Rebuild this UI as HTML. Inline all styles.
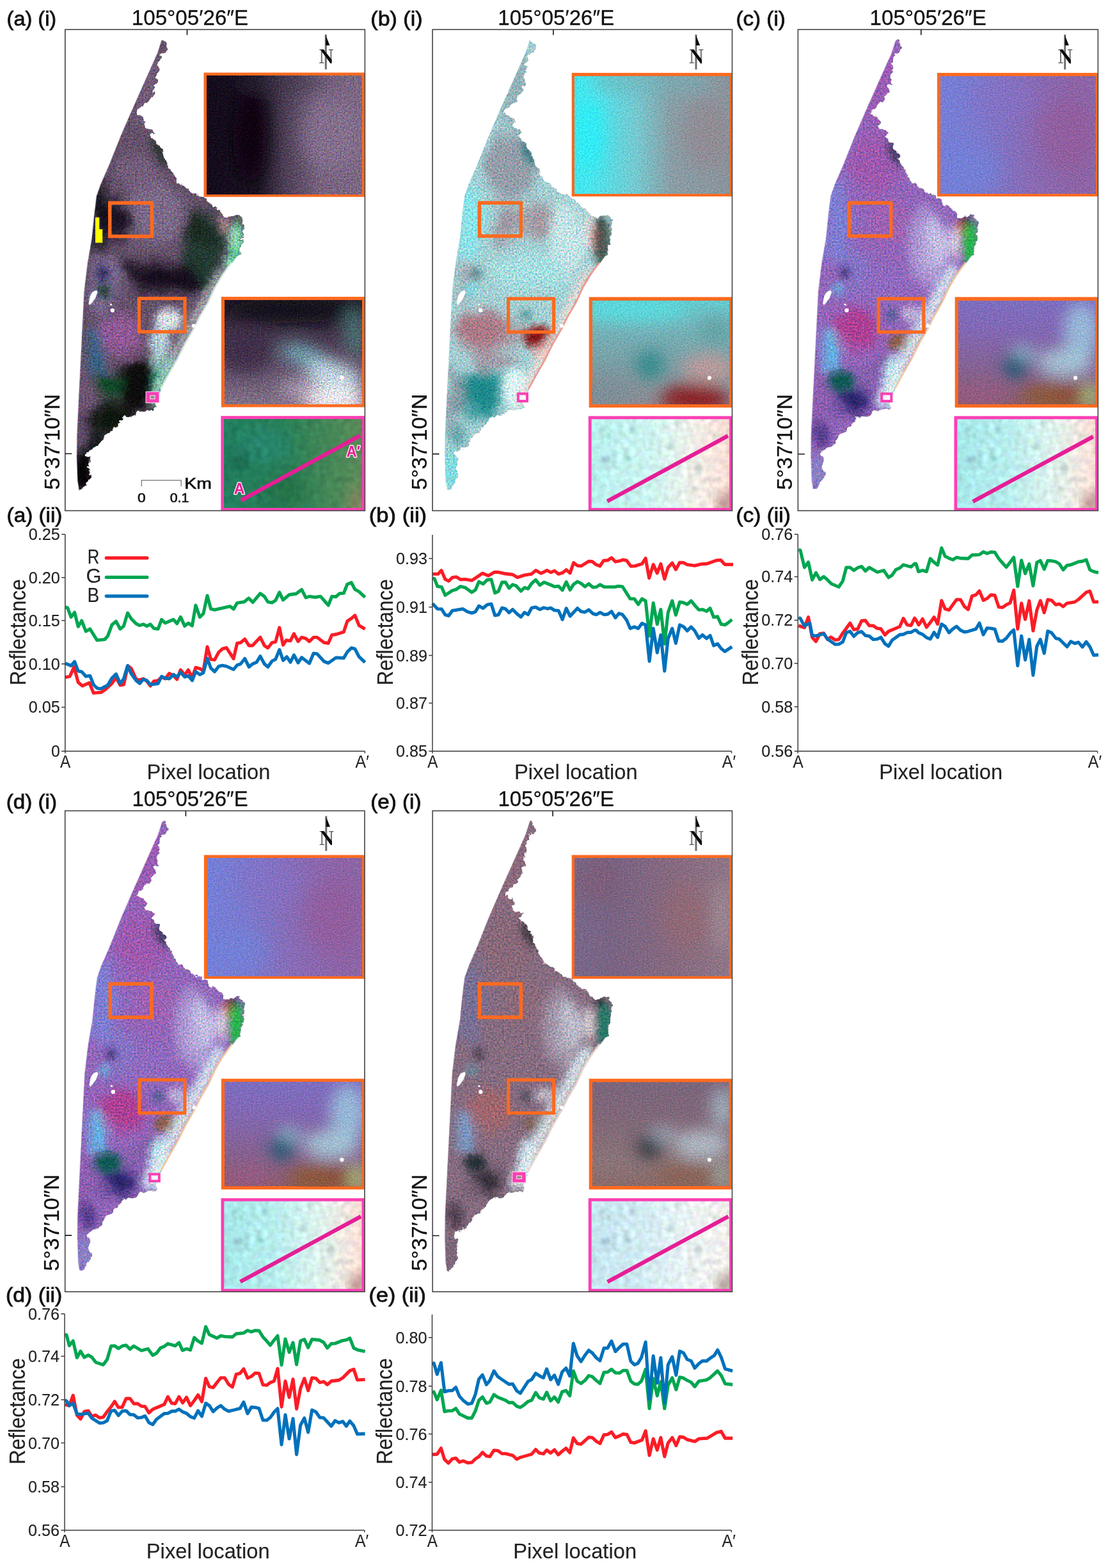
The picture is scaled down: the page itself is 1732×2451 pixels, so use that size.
<!DOCTYPE html>
<html lang="en"><head><meta charset="utf-8"><title>Figure</title>
<style>
html,body{margin:0;padding:0;background:#fff}
body{width:1732px;height:2451px}
svg{display:block}
text{font-family:"Liberation Sans", sans-serif;}
text.nser{font-family:"Liberation Serif",serif;font-weight:bold}
</style></head><body>
<svg width="1732" height="2451" viewBox="0 0 1732 2451">
<rect width="1732" height="2451" fill="#fff"/>
<defs><filter id="gr1" x="0" y="0" width="100%" height="100%" color-interpolation-filters="sRGB"><feTurbulence type="fractalNoise" baseFrequency="0.45" numOctaves="1" seed="3"/><feColorMatrix type="matrix" values="1.840 0.230 0.230 0 -0.650 0.230 1.840 0.230 0 -0.650 0.230 0.230 1.840 0 -0.650 0 0 0 0 1" result="n"/><feComposite in="SourceGraphic" in2="n" operator="arithmetic" k1="0.5" k2="0.750" k3="0.09" k4="-0.045"/><feComposite in2="SourceGraphic" operator="in"/></filter><filter id="gr2" x="0" y="0" width="100%" height="100%" color-interpolation-filters="sRGB"><feTurbulence type="fractalNoise" baseFrequency="0.45" numOctaves="1" seed="7"/><feColorMatrix type="matrix" values="2.200 0.400 0.400 0 -1.000 0.173 0.953 0.173 0 -0.150 0.173 0.173 0.953 0 -0.150 0 0 0 0 1" result="n"/><feComposite in="SourceGraphic" in2="n" operator="arithmetic" k1="0.3" k2="0.850" k3="0.08" k4="-0.040"/><feComposite in2="SourceGraphic" operator="in"/></filter><filter id="gr3" x="0" y="0" width="100%" height="100%" color-interpolation-filters="sRGB"><feTurbulence type="fractalNoise" baseFrequency="0.1" numOctaves="2" seed="5"/><feColorMatrix type="matrix" values="1.100 0.550 0.550 0 -0.600 0.550 1.100 0.550 0 -0.600 0.550 0.550 1.100 0 -0.600 0 0 0 0 1" result="n"/><feComposite in="SourceGraphic" in2="n" operator="arithmetic" k1="0.16" k2="0.920" k3="0.03" k4="-0.015"/><feComposite in2="SourceGraphic" operator="in"/></filter><filter id="gr4" x="0" y="0" width="100%" height="100%" color-interpolation-filters="sRGB"><feTurbulence type="fractalNoise" baseFrequency="0.45" numOctaves="1" seed="11"/><feColorMatrix type="matrix" values="2.147 0.327 0.327 0 -0.900 0.175 1.150 0.175 0 -0.250 0.222 0.222 1.457 0 -0.450 0 0 0 0 1" result="n"/><feComposite in="SourceGraphic" in2="n" operator="arithmetic" k1="0.28" k2="0.860" k3="0.07" k4="-0.035"/><feComposite in2="SourceGraphic" operator="in"/></filter><filter id="lf1" x="-5%" y="-3%" width="110%" height="106%" color-interpolation-filters="sRGB"><feTurbulence type="fractalNoise" baseFrequency="0.13" numOctaves="2" seed="23" result="t1"/><feDisplacementMap in="SourceGraphic" in2="t1" scale="9" xChannelSelector="R" yChannelSelector="G" result="d"/><feTurbulence type="fractalNoise" baseFrequency="0.38" numOctaves="2" seed="3"/><feColorMatrix type="matrix" values="1.840 0.230 0.230 0 -0.650 0.190 1.520 0.190 0 -0.450 0.230 0.230 1.840 0 -0.650 0 0 0 0 1" result="n"/><feComposite in="d" in2="n" operator="arithmetic" k1="0.6" k2="0.700" k3="0.09" k4="-0.045"/><feComposite in2="d" operator="in"/></filter><filter id="lf2" x="-5%" y="-3%" width="110%" height="106%" color-interpolation-filters="sRGB"><feTurbulence type="fractalNoise" baseFrequency="0.13" numOctaves="2" seed="27" result="t1"/><feDisplacementMap in="SourceGraphic" in2="t1" scale="9" xChannelSelector="R" yChannelSelector="G" result="d"/><feTurbulence type="fractalNoise" baseFrequency="0.38" numOctaves="2" seed="7"/><feColorMatrix type="matrix" values="2.720 0.340 0.340 0 -1.200 0.150 1.200 0.150 0 -0.250 0.140 0.140 1.120 0 -0.200 0 0 0 0 1" result="n"/><feComposite in="d" in2="n" operator="arithmetic" k1="0.42" k2="0.790" k3="0.13" k4="-0.065"/><feComposite in2="d" operator="in"/></filter><filter id="lf4" x="-5%" y="-3%" width="110%" height="106%" color-interpolation-filters="sRGB"><feTurbulence type="fractalNoise" baseFrequency="0.13" numOctaves="2" seed="31" result="t1"/><feDisplacementMap in="SourceGraphic" in2="t1" scale="9" xChannelSelector="R" yChannelSelector="G" result="d"/><feTurbulence type="fractalNoise" baseFrequency="0.38" numOctaves="2" seed="11"/><feColorMatrix type="matrix" values="2.400 0.300 0.300 0 -1.000 0.160 1.280 0.160 0 -0.300 0.200 0.200 1.600 0 -0.500 0 0 0 0 1" result="n"/><feComposite in="d" in2="n" operator="arithmetic" k1="0.42" k2="0.790" k3="0.11" k4="-0.055"/><feComposite in2="d" operator="in"/></filter><filter id="lf5" x="-5%" y="-3%" width="110%" height="106%" color-interpolation-filters="sRGB"><feTurbulence type="fractalNoise" baseFrequency="0.13" numOctaves="2" seed="35" result="t1"/><feDisplacementMap in="SourceGraphic" in2="t1" scale="9" xChannelSelector="R" yChannelSelector="G" result="d"/><feTurbulence type="fractalNoise" baseFrequency="0.36" numOctaves="2" seed="15"/><feColorMatrix type="matrix" values="2.053 0.373 0.373 0 -0.900 0.213 1.173 0.213 0 -0.300 0.227 0.227 1.247 0 -0.350 0 0 0 0 1" result="n"/><feComposite in="d" in2="n" operator="arithmetic" k1="0.4" k2="0.800" k3="0.1" k4="-0.050"/><feComposite in2="d" operator="in"/></filter><filter id="warp" x="-10%" y="-10%" width="120%" height="120%"><feTurbulence type="fractalNoise" baseFrequency="0.022" numOctaves="2" seed="4" result="w"/><feDisplacementMap in="SourceGraphic" in2="w" scale="30" xChannelSelector="R" yChannelSelector="G"/></filter><filter id="b1" x="-20%" y="-20%" width="140%" height="140%"><feGaussianBlur stdDeviation="0.6"/></filter><clipPath id="land"><path d="M145.8 13.2 L138.4 36.4 L121.8 73.4 L99.5 123.4 L81.0 165.9 L62.5 212.2 L49.6 241.8 L43.1 260.3 L39.4 289.9 L35.7 326.9 L29.2 364.0 L23.7 409.3 L20.9 464.8 L18.1 520.4 L15.3 575.9 L12.6 631.4 L12.2 668.4 L13.5 705.5 L15.3 716.6 L20.0 719.3 L26.0 719.3 L29.2 714.8 L33.4 709.2 L35.2 703.8 L38.9 699.9 L39.2 693.8 L36.1 687.0 L36.2 679.8 L38.9 672.1 L37.2 667.8 L31.5 664.7 L34.2 659.8 L40.8 657.3 L45.2 652.8 L51.9 651.8 L56.2 644.8 L61.1 637.0 L65.2 631.8 L72.2 629.6 L74.2 622.8 L79.6 620.3 L84.2 614.8 L88.9 607.4 L96.2 603.8 L103.7 605.5 L108.2 603.8 L113.0 598.1 L126.2 594.8 L135.2 596.3 L145.5 587.9 L154.8 565.6 L165.9 545.3 L180.7 519.4 L193.6 493.5 L206.6 471.3 L215.8 452.7 L228.8 430.5 L239.9 406.5 L251.0 388.0 L259.0 376.5 L265.8 367.6 L274.1 356.5 L272.1 345.5 L275.2 336.8 L277.7 326.9 L278.7 318.8 L279.5 308.4 L278.2 299.8 L275.8 292.7 L268.4 289.6 L262.2 290.8 L257.3 294.6 L249.9 293.6 L242.5 284.4 L238.2 280.8 L231.4 277.0 L226.2 271.8 L220.3 264.9 L210.2 259.8 L201.8 256.6 L195.2 252.8 L188.8 246.4 L182.2 241.8 L175.9 240.0 L168.5 227.0 L164.2 218.8 L159.2 209.8 L155.2 202.8 L155.5 195.5 L148.2 185.8 L144.4 177.0 L138.2 171.8 L132.5 165.8 L140.7 161.3 L134.2 156.8 L126.2 154.8 L123.2 148.8 L127.8 143.7 L122.2 137.8 L116.7 132.6 L110.2 131.8 L112.2 125.8 L120.2 121.5 L124.2 114.8 L131.2 112.2 L132.2 105.8 L137.0 103.0 L139.2 94.8 L138.2 87.8 L143.5 84.5 L144.2 79.8 L140.7 75.2 L144.4 67.8 L146.2 59.8 L143.2 53.0 L149.2 45.8 L148.7 38.8 L155.5 35.4 L161.1 29.0 L155.5 17.9Z"/></clipPath><clipPath id="landL"><path d="M150.8 5.2 L151.8 13.2 L144.4 36.4 L127.8 73.4 L105.5 123.4 L87.0 165.9 L68.5 212.2 L55.6 241.8 L49.1 260.3 L45.4 289.9 L41.7 326.9 L35.2 364.0 L29.7 409.3 L26.9 464.8 L24.1 520.4 L21.3 575.9 L18.6 631.4 L18.2 668.4 L19.5 705.5 L21.3 716.6 L21.3 725.8 L33.0 728.8 L33.0 726.3 L36.2 721.8 L40.4 716.2 L42.2 710.8 L45.9 706.9 L46.2 700.8 L43.1 694.0 L43.2 686.8 L45.9 679.1 L44.2 674.8 L38.5 671.7 L41.2 666.8 L47.8 664.3 L52.2 659.8 L58.9 658.8 L63.2 651.8 L68.1 644.0 L72.2 638.8 L79.2 636.6 L81.2 629.8 L86.6 627.3 L91.2 621.8 L95.9 614.4 L103.2 610.8 L110.7 612.5 L115.2 610.8 L120.0 605.1 L133.2 601.8 L142.2 603.3 L143.7 591.2 L140.7 585.2 L150.0 562.9 L161.1 542.6 L175.9 516.7 L188.8 490.8 L201.8 468.6 L211.0 450.0 L224.0 427.8 L235.1 403.8 L246.2 385.3 L254.2 373.8 L261.0 364.9 L269.3 353.8 L283.1 348.5 L281.1 340.5 L284.2 331.8 L286.7 321.9 L287.7 313.8 L288.5 303.4 L287.2 294.8 L284.8 287.7 L277.4 284.6 L271.2 285.8 L266.3 289.6 L258.9 288.6 L251.5 279.4 L247.2 275.8 L240.4 272.0 L235.2 266.8 L229.3 259.9 L219.2 254.8 L210.8 251.6 L204.2 247.8 L197.8 241.4 L191.2 236.8 L184.9 235.0 L177.5 222.0 L173.2 213.8 L168.2 204.8 L164.2 197.8 L164.5 190.5 L157.2 180.8 L153.4 172.0 L147.2 166.8 L141.5 160.8 L149.7 156.3 L143.2 151.8 L135.2 149.8 L132.2 143.8 L136.8 138.7 L131.2 132.8 L125.7 127.6 L119.2 126.8 L121.2 120.8 L129.2 116.5 L133.2 109.8 L140.2 107.2 L141.2 100.8 L146.0 98.0 L148.2 89.8 L147.2 82.8 L152.5 79.5 L153.2 74.8 L149.7 70.2 L153.4 62.8 L155.2 54.8 L152.2 48.0 L158.2 40.8 L157.7 33.8 L164.5 30.4 L170.1 24.0 L164.5 12.9 L163.8 5.2Z"/></clipPath><filter id="b9" x="-50%" y="-50%" width="200%" height="200%"><feGaussianBlur stdDeviation="9"/></filter><filter id="b6" x="-50%" y="-50%" width="200%" height="200%"><feGaussianBlur stdDeviation="6"/></filter><linearGradient id="ga0" x1="0" y1="0" x2="1" y2="0"><stop offset="0" stop-color="#1b1430"/><stop offset="0.12" stop-color="#140c1c"/><stop offset="0.36" stop-color="#1c1323"/><stop offset="0.5" stop-color="#4c3e55"/><stop offset="0.68" stop-color="#77637f"/><stop offset="1" stop-color="#806b88"/></linearGradient><filter id="b12" x="-50%" y="-50%" width="200%" height="200%"><feGaussianBlur stdDeviation="12"/></filter><linearGradient id="ga1" x1="0" y1="0" x2="0" y2="1"><stop offset="0" stop-color="#15101a"/><stop offset="0.22" stop-color="#2e2233"/><stop offset="0.5" stop-color="#54435c"/><stop offset="1" stop-color="#938299"/></linearGradient><linearGradient id="ga2" x1="0" y1="0" x2="1" y2="0"><stop offset="0" stop-color="#1f7f63"/><stop offset="0.45" stop-color="#2a7f56"/><stop offset="0.8" stop-color="#4f8a58"/><stop offset="1" stop-color="#6f8a5c"/></linearGradient><linearGradient id="gb0" x1="0" y1="0" x2="1" y2="0"><stop offset="0" stop-color="#35eaf2"/><stop offset="0.18" stop-color="#4ae6ee"/><stop offset="0.42" stop-color="#76c9d0"/><stop offset="0.6" stop-color="#8a9ea6"/><stop offset="1" stop-color="#8c9199"/></linearGradient><linearGradient id="gb1" x1="0" y1="0" x2="0" y2="1"><stop offset="0" stop-color="#58e0e2"/><stop offset="0.3" stop-color="#74b6bc"/><stop offset="0.6" stop-color="#7a9da4"/><stop offset="1" stop-color="#9a8088"/></linearGradient><linearGradient id="gb2" x1="0" y1="0" x2="1" y2="0"><stop offset="0" stop-color="#b2efee"/><stop offset="0.45" stop-color="#cdf4f0"/><stop offset="0.7" stop-color="#f2efe8"/><stop offset="0.86" stop-color="#f8e0d8"/><stop offset="1" stop-color="#f6c6be"/></linearGradient><filter id="b3" x="-50%" y="-50%" width="200%" height="200%"><feGaussianBlur stdDeviation="3"/></filter><linearGradient id="gc0" x1="0" y1="0" x2="1" y2="0"><stop offset="0" stop-color="#7282de"/><stop offset="0.3" stop-color="#7c7ace"/><stop offset="0.55" stop-color="#896cb6"/><stop offset="0.8" stop-color="#8e64a6"/><stop offset="1" stop-color="#8c68a8"/></linearGradient><linearGradient id="gc1" x1="0" y1="0" x2="0" y2="1"><stop offset="0" stop-color="#7a72c8"/><stop offset="0.35" stop-color="#8268b4"/><stop offset="0.65" stop-color="#86628f"/><stop offset="1" stop-color="#8f5a58"/></linearGradient><linearGradient id="gc2" x1="0" y1="0" x2="1" y2="0"><stop offset="0" stop-color="#9fe6e8"/><stop offset="0.4" stop-color="#b8eeee"/><stop offset="0.68" stop-color="#e2f2ec"/><stop offset="0.86" stop-color="#f8e2da"/><stop offset="1" stop-color="#f6cac2"/></linearGradient><linearGradient id="gd0" x1="0" y1="0" x2="1" y2="0"><stop offset="0" stop-color="#7282de"/><stop offset="0.3" stop-color="#7c7ace"/><stop offset="0.55" stop-color="#896cb6"/><stop offset="0.8" stop-color="#8e64a6"/><stop offset="1" stop-color="#8c68a8"/></linearGradient><linearGradient id="gd1" x1="0" y1="0" x2="0" y2="1"><stop offset="0" stop-color="#7a72c8"/><stop offset="0.35" stop-color="#8268b4"/><stop offset="0.65" stop-color="#86628f"/><stop offset="1" stop-color="#8f5a58"/></linearGradient><linearGradient id="gd2" x1="0" y1="0" x2="1" y2="0"><stop offset="0" stop-color="#9fe6e8"/><stop offset="0.4" stop-color="#b8eeee"/><stop offset="0.68" stop-color="#e2f2ec"/><stop offset="0.86" stop-color="#f8e2da"/><stop offset="1" stop-color="#f6cac2"/></linearGradient><linearGradient id="ge0" x1="0" y1="0" x2="1" y2="0"><stop offset="0" stop-color="#776a8c"/><stop offset="0.3" stop-color="#7a6484"/><stop offset="0.6" stop-color="#876a80"/><stop offset="1" stop-color="#927a88"/></linearGradient><linearGradient id="ge1" x1="0" y1="0" x2="0" y2="1"><stop offset="0" stop-color="#78647e"/><stop offset="0.4" stop-color="#806878"/><stop offset="0.7" stop-color="#8a7478"/><stop offset="1" stop-color="#8a6460"/></linearGradient><linearGradient id="ge2" x1="0" y1="0" x2="1" y2="0"><stop offset="0" stop-color="#c0e4f0"/><stop offset="0.4" stop-color="#d2ecf3"/><stop offset="0.7" stop-color="#eef3f3"/><stop offset="1" stop-color="#f4ebe6"/></linearGradient></defs>
<g id="map-a"><g transform="translate(101.8 46.2)"><g clip-path="url(#landL)"><g filter="url(#lf1)"><g clip-path="url(#land)"><rect x="-10" y="0" width="310" height="740" fill="#64516a"/><g filter="url(#warp)"><g filter="url(#b9)"><ellipse cx="133.2" cy="93.8" rx="30.0" ry="70.0" fill="#725a78" opacity="1"/><ellipse cx="143.2" cy="283.8" rx="42.0" ry="50.0" fill="#7c6988" opacity="1"/><ellipse cx="113.2" cy="223.8" rx="35.0" ry="30.0" fill="#745e7c" opacity="0.95"/><ellipse cx="54.2" cy="288.8" rx="13.0" ry="60.0" fill="#0b0818" opacity="1"/><ellipse cx="84.2" cy="298.8" rx="17.0" ry="30.0" fill="#130c1b" opacity="0.95"/><ellipse cx="58.2" cy="398.8" rx="24.0" ry="45.0" fill="#7d6c95" opacity="0.9"/><ellipse cx="216.2" cy="343.8" rx="32.0" ry="62.0" fill="#243a32" opacity="1"/><ellipse cx="210.2" cy="315.8" rx="22.0" ry="28.0" fill="#1a2824" opacity="0.95"/><ellipse cx="160.2" cy="389.8" rx="55.0" ry="22.0" fill="#17111a" opacity="1"/><ellipse cx="113.2" cy="371.8" rx="30.0" ry="16.0" fill="#241a28" opacity="0.9"/><ellipse cx="85.2" cy="475.8" rx="32.0" ry="32.0" fill="#96599a" opacity="0.9"/><ellipse cx="50.2" cy="501.8" rx="10.0" ry="38.0" fill="#1f6a90" opacity="0.95"/><ellipse cx="116.2" cy="555.8" rx="34.0" ry="44.0" fill="#0a0a0b" opacity="1"/><ellipse cx="66.2" cy="557.8" rx="24.0" ry="22.0" fill="#0e4a28" opacity="1"/><ellipse cx="73.2" cy="608.8" rx="36.0" ry="24.0" fill="#0c120e" opacity="1"/><ellipse cx="48.2" cy="653.8" rx="24.0" ry="18.0" fill="#101814" opacity="1"/><ellipse cx="50.2" cy="615.8" rx="16.0" ry="26.0" fill="#161c1a" opacity="0.95"/><ellipse cx="27.2" cy="578.8" rx="7.0" ry="60.0" fill="#75577c" opacity="0.95"/><ellipse cx="27.2" cy="695.8" rx="18.0" ry="34.0" fill="#060606" opacity="1"/></g></g><g filter="url(#b6)"><ellipse cx="148.2" cy="191.8" rx="8.0" ry="26.0" fill="#233229" opacity="0.9" transform="rotate(-25 148.2 191.8)"/><ellipse cx="59.2" cy="381.8" rx="8.0" ry="12.0" fill="#1a1a52" opacity="0.95"/><ellipse cx="60.2" cy="408.8" rx="9.0" ry="11.0" fill="#0c3a28" opacity="0.95"/><ellipse cx="162.2" cy="453.8" rx="22.0" ry="18.0" fill="#dfe9f0" opacity="0.95"/><ellipse cx="148.2" cy="488.8" rx="17.0" ry="25.0" fill="#bcd8e0" opacity="0.9"/><ellipse cx="144.2" cy="521.8" rx="12.0" ry="16.0" fill="#9fd6d0" opacity="0.8"/><ellipse cx="146.2" cy="559.8" rx="13.0" ry="32.0" fill="#1d9c7b" opacity="1"/><ellipse cx="164.2" cy="531.8" rx="9.0" ry="24.0" fill="#259a80" opacity="0.95"/><ellipse cx="267.2" cy="331.8" rx="11.0" ry="30.0" fill="#4ad894" opacity="1"/><ellipse cx="264.2" cy="325.8" rx="6.0" ry="18.0" fill="#b8f0d0" opacity="0.9"/><ellipse cx="258.2" cy="365.8" rx="9.0" ry="13.0" fill="#7fe0b0" opacity="1"/><ellipse cx="272.2" cy="297.8" rx="6.0" ry="6.0" fill="#5a7a4a" opacity="0.9"/><ellipse cx="247.2" cy="305.8" rx="5.0" ry="14.0" fill="#e8b0a8" opacity="0.9"/><polyline points="243.2,378.8 229.2,402.8 217.2,426.8 204.2,448.8 195.2,466.8 182.2,489.8 169.2,514.8 154.2,540.8 143.2,561.8 134.2,582.8" fill="none" stroke="#dcefe9" stroke-width="9" stroke-linecap="round" stroke-linejoin="round" opacity="0.8"/></g></g></g><polyline points="261.0,364.9 254.2,373.8 246.2,385.3 235.1,403.8 224.0,427.8 211.0,450.0 201.8,468.6 188.8,490.8 175.9,516.7 161.1,542.6 150.0,562.9" fill="none" stroke="#dff2ea" stroke-width="5" opacity="0.85" filter="url(#b1)"/></g><polygon points="36.7,427.8 39.2,415.8 43.2,409.8 49.2,407.3 50.7,410.8 47.2,419.8 42.2,426.8 38.2,430.8" fill="#fff"/><circle cx="74.1" cy="438.9" r="3.2" fill="#fff"/><circle cx="71.7" cy="429.8" r="1.6" fill="#fff"/><circle cx="200.9" cy="463.0" r="3.0" fill="#fff"/><circle cx="103.2" cy="106.8" r="2.0" fill="#fff"/><path d="M47.2 293.6 H53.5 V312.1 H58.4 V333.4 H47.2Z" fill="#ffff00"/></g><rect x="171.7" y="317.2" width="65.7" height="52.2" fill="none" stroke="#fb6a20" stroke-width="5.5"/><rect x="217.4" y="466.5" width="71.6" height="52.1" fill="none" stroke="#fb6a20" stroke-width="5.2"/><rect x="227.6" y="611.8" width="21.8" height="18.3" fill="#fbe3f2"/><rect x="228.6" y="612.8" width="19.8" height="16.3" fill="#fb3fb4"/><rect x="234.9" y="618.4" width="7.2" height="5.1" fill="#8b8f86" stroke="#f7d3e8" stroke-width="1.2"/><rect x="318.5" y="113.5" width="252.2" height="194.3" fill="#fb6a20"/><svg x="323.2" y="118.2" width="242.8" height="184.9" viewBox="0 0 242.8 184.9" overflow="hidden"><g filter="url(#gr1)"><rect x="-30" y="-30" width="302.8" height="244.9" fill="url(#ga0)"/><g filter="url(#b12)"><ellipse cx="68.0" cy="92.5" rx="26.7" ry="74.0" fill="#0c0610" opacity="0.9"/><ellipse cx="194.2" cy="92.5" rx="48.6" ry="55.5" fill="#8a7594" opacity="0.6"/><ellipse cx="121.4" cy="11.1" rx="72.8" ry="14.8" fill="#3a3045" opacity="0.5"/></g></g></svg><rect x="345.8" y="463.9" width="224.9" height="172.6" fill="#fb6a20"/><svg x="351.0" y="469.1" width="214.5" height="162.2" viewBox="0 0 214.5 162.2" overflow="hidden"><g filter="url(#gr1)"><rect x="-30" y="-30" width="274.5" height="222.2" fill="url(#ga1)"/><g filter="url(#b12)"><ellipse cx="32.2" cy="77.9" rx="42.9" ry="35.7" fill="#3d2c48" opacity="0.9"/><ellipse cx="107.2" cy="16.2" rx="107.2" ry="19.5" fill="#120e14" opacity="0.9"/><ellipse cx="128.7" cy="89.2" rx="42.9" ry="16.2" fill="#79c4cf" opacity="0.75" transform="rotate(20 128.7 89.2)"/><ellipse cx="171.6" cy="120.0" rx="42.9" ry="22.7" fill="#c9e2ec" opacity="0.9" transform="rotate(15 171.6 120.0)"/><ellipse cx="171.6" cy="157.3" rx="47.2" ry="19.5" fill="#fbf7fb" opacity="0.95"/><ellipse cx="203.8" cy="48.7" rx="17.2" ry="40.5" fill="#4f8a85" opacity="0.7"/><ellipse cx="118.0" cy="137.9" rx="32.2" ry="16.2" fill="#c8b8d0" opacity="0.6"/></g></g><circle cx="183.6" cy="121.0" r="3.1" fill="#fff"/></svg><rect x="345.3" y="650.2" width="225.4" height="148.5" fill="#fb3fb4"/><svg x="350.1" y="655.0" width="215.8" height="138.9" viewBox="0 0 215.8 138.9" overflow="hidden"><g filter="url(#gr3)"><rect x="-30" y="-30" width="275.8" height="198.9" fill="url(#ga2)"/><g filter="url(#b12)"><ellipse cx="25.9" cy="62.5" rx="12.9" ry="11.1" fill="#0d3f2c" opacity="0.8"/><ellipse cx="211.5" cy="132.0" rx="17.3" ry="27.8" fill="#9a8060" opacity="0.7"/><ellipse cx="64.7" cy="41.7" rx="43.2" ry="27.8" fill="#2a8a78" opacity="0.6"/><ellipse cx="97.1" cy="111.1" rx="32.4" ry="27.8" fill="#1c6a40" opacity="0.6"/></g></g><line x1="26.7" y1="127.2" x2="212.7" y2="26.0" stroke="#e61e97" stroke-width="6.2" stroke-linecap="butt"/><text x="15.6" y="117.0" font-size="24" font-weight="bold" fill="#e61e97" stroke="#ffe3f3" stroke-width="3" paint-order="stroke" stroke-linejoin="round" textLength="16.7" lengthAdjust="spacingAndGlyphs">A</text><text x="191.4" y="58.7" font-size="24" font-weight="bold" fill="#e61e97" stroke="#ffe3f3" stroke-width="3" paint-order="stroke" stroke-linejoin="round" textLength="21.5" lengthAdjust="spacingAndGlyphs">A′</text></svg><rect x="507.8" y="53.9" width="3" height="54.6" fill="#6f6f6f"/><path d="M509.3 55.4 L515.5 70.9 L509.3 70.9Z" fill="#0a0a0a"/><text x="509.9" y="99.2" class="nser" font-size="33" text-anchor="middle" fill="#707070" textLength="23" lengthAdjust="spacingAndGlyphs">N</text><path d="M500.9 77.7h4.8l12.8 15.6v5.8h-1.8z" fill="#0a0a0a"/><rect x="101.8" y="46.2" width="468.6" height="752.1" fill="none" stroke="#4d4d4d" stroke-width="1.7"/><path d="M292.5 46.2v8.5M101.8 709.3h10.5" stroke="#1a1a1a" stroke-width="1.6" fill="none"/><path d="M221.3 760.3V750.7H283.2V760.3" fill="none" stroke="#8a8a8a" stroke-width="1.5"/><text x="288.3" y="763.7" font-size="24.5" textLength="42.6" lengthAdjust="spacingAndGlyphs" fill="#111" stroke="#111" stroke-width="0.7">Km</text><text x="221.2" y="785.0" font-size="21" text-anchor="middle" textLength="12.6" lengthAdjust="spacingAndGlyphs" fill="#111" stroke="#111" stroke-width="0.6">0</text><text x="280.5" y="785.0" font-size="21" text-anchor="middle" textLength="29.7" lengthAdjust="spacingAndGlyphs" fill="#111" stroke="#111" stroke-width="0.6">0.1</text><text x="10.6" y="39.9" font-size="31" textLength="77.6" lengthAdjust="spacingAndGlyphs" fill="#111" stroke="#111" stroke-width="0.8">(a) (i)</text><text x="205.8" y="38.8" font-size="33" textLength="182.4" lengthAdjust="spacingAndGlyphs" fill="#111" stroke="#111" stroke-width="0.3">105°05′26″E</text><text transform="translate(92.6 765.4) rotate(-90)" font-size="33.5" fill="#111" stroke="#111" stroke-width="0.3" textLength="149.4" lengthAdjust="spacingAndGlyphs">5°37′10″N</text></g>
<g id="map-b"><g transform="translate(677.1 46.2)"><g clip-path="url(#landL)"><g filter="url(#lf2)"><g clip-path="url(#land)"><rect x="-10" y="0" width="310" height="740" fill="#a4d0d4"/><g filter="url(#warp)"><g filter="url(#b9)"><ellipse cx="133.2" cy="93.8" rx="30.0" ry="70.0" fill="#93b2b9" opacity="1"/><ellipse cx="120.2" cy="215.8" rx="42.0" ry="50.0" fill="#949aa6" opacity="0.95"/><ellipse cx="58.2" cy="298.8" rx="17.0" ry="60.0" fill="#86e6ec" opacity="1"/><ellipse cx="113.2" cy="301.8" rx="22.0" ry="28.0" fill="#9e8b98" opacity="0.85"/><ellipse cx="163.2" cy="298.8" rx="24.0" ry="30.0" fill="#a48e99" opacity="0.85"/><ellipse cx="210.2" cy="328.8" rx="28.0" ry="58.0" fill="#c6e5e7" opacity="0.95"/><ellipse cx="148.2" cy="378.8" rx="60.0" ry="28.0" fill="#a6dfe3" opacity="0.95"/><ellipse cx="48.2" cy="393.8" rx="12.0" ry="30.0" fill="#a58a98" opacity="0.6"/><ellipse cx="73.2" cy="468.8" rx="40.0" ry="34.0" fill="#ad6a78" opacity="0.85"/><ellipse cx="128.2" cy="473.8" rx="20.0" ry="20.0" fill="#a8808a" opacity="0.6"/><ellipse cx="96.2" cy="515.8" rx="32.0" ry="14.0" fill="#a08a98" opacity="0.8"/><ellipse cx="74.2" cy="568.8" rx="34.0" ry="40.0" fill="#1f8a8c" opacity="1"/><ellipse cx="32.2" cy="573.8" rx="9.0" ry="55.0" fill="#8a8a9a" opacity="0.8"/><ellipse cx="30.2" cy="691.8" rx="16.0" ry="34.0" fill="#7adde2" opacity="1"/><ellipse cx="38.2" cy="633.8" rx="12.0" ry="14.0" fill="#3a8a90" opacity="0.8"/></g></g><g filter="url(#b6)"><ellipse cx="149.2" cy="193.8" rx="7.0" ry="22.0" fill="#2a7478" opacity="0.9" transform="rotate(-25 149.2 193.8)"/><ellipse cx="67.2" cy="381.8" rx="7.0" ry="9.0" fill="#2a6a70" opacity="0.85"/><ellipse cx="58.2" cy="405.8" rx="9.0" ry="10.0" fill="#70e8f0" opacity="0.9"/><ellipse cx="166.2" cy="481.8" rx="25.0" ry="19.0" fill="#861216" opacity="1"/><ellipse cx="145.2" cy="445.8" rx="9.0" ry="8.0" fill="#3f8a8c" opacity="0.85"/><ellipse cx="170.2" cy="505.8" rx="14.0" ry="13.0" fill="#e8a8a8" opacity="0.9"/><ellipse cx="128.2" cy="561.8" rx="18.0" ry="32.0" fill="#e0fafa" opacity="0.95"/><ellipse cx="264.2" cy="331.8" rx="14.0" ry="40.0" fill="#4a5a55" opacity="1"/><ellipse cx="260.2" cy="299.8" rx="7.0" ry="7.0" fill="#1a2a2a" opacity="0.95"/><ellipse cx="252.2" cy="325.8" rx="5.0" ry="22.0" fill="#8a3a36" opacity="0.9"/><ellipse cx="244.2" cy="315.8" rx="5.0" ry="28.0" fill="#f0d8d4" opacity="0.95"/><ellipse cx="243.2" cy="393.8" rx="5.0" ry="12.0" fill="#7a2a2a" opacity="0.8"/><polyline points="243.2,378.8 229.2,402.8 217.2,426.8 204.2,448.8 195.2,466.8 182.2,489.8 169.2,514.8 154.2,540.8 143.2,561.8 134.2,582.8" fill="none" stroke="#f6dcd6" stroke-width="12" stroke-linecap="round" stroke-linejoin="round" opacity="0.9"/></g></g></g><polyline points="261.0,364.9 254.2,373.8 246.2,385.3 235.1,403.8 224.0,427.8 211.0,450.0 201.8,468.6 188.8,490.8 175.9,516.7 161.1,542.6 150.0,562.9" fill="none" stroke="#f0958c" stroke-width="5.5" opacity="0.95" filter="url(#b1)"/></g><polygon points="36.7,427.8 39.2,415.8 43.2,409.8 49.2,407.3 50.7,410.8 47.2,419.8 42.2,426.8 38.2,430.8" fill="#fff"/><circle cx="74.1" cy="438.9" r="3.2" fill="#fff"/><circle cx="71.7" cy="429.8" r="1.6" fill="#fff"/><circle cx="200.9" cy="463.0" r="3.0" fill="#fff"/><circle cx="103.2" cy="106.8" r="2.0" fill="#fff"/></g><rect x="749.5" y="317.1" width="64.8" height="51.9" fill="none" stroke="#fb6a20" stroke-width="5.5"/><rect x="794.6" y="466.9" width="71.0" height="52.1" fill="none" stroke="#fb6a20" stroke-width="5.2"/><rect x="809.9" y="615.5" width="14.1" height="11.5" fill="#fff" fill-opacity="0.75" stroke="#fb3fb4" stroke-width="4"/><rect x="893.7" y="113.9" width="251.2" height="193.2" fill="#fb6a20"/><svg x="898.4" y="118.6" width="241.8" height="183.8" viewBox="0 0 241.8 183.8" overflow="hidden"><g filter="url(#gr2)"><rect x="-30" y="-30" width="301.8" height="243.8" fill="url(#gb0)"/><g filter="url(#b12)"><ellipse cx="205.5" cy="91.9" rx="36.3" ry="55.1" fill="#94868e" opacity="0.6"/><ellipse cx="120.9" cy="9.2" rx="96.7" ry="18.4" fill="#6fb0b8" opacity="0.6"/><ellipse cx="24.2" cy="91.9" rx="24.2" ry="55.1" fill="#22f0f8" opacity="0.7"/></g></g></svg><rect x="920.7" y="464.3" width="224.2" height="172.8" fill="#fb6a20"/><svg x="925.9" y="469.5" width="213.8" height="162.4" viewBox="0 0 213.8 162.4" overflow="hidden"><g filter="url(#gr2)"><rect x="-30" y="-30" width="273.8" height="222.4" fill="url(#gb1)"/><g filter="url(#b12)"><ellipse cx="89.8" cy="100.7" rx="21.4" ry="22.7" fill="#2f8a8a" opacity="0.9"/><ellipse cx="160.3" cy="154.3" rx="53.4" ry="24.4" fill="#8a2022" opacity="0.95"/><ellipse cx="181.7" cy="105.6" rx="42.8" ry="22.7" fill="#c89a98" opacity="0.8"/><ellipse cx="21.4" cy="146.2" rx="42.8" ry="24.4" fill="#7a8f98" opacity="0.8"/><ellipse cx="192.4" cy="48.7" rx="25.7" ry="24.4" fill="#5f9ea0" opacity="0.7"/><ellipse cx="64.1" cy="16.2" rx="85.5" ry="19.5" fill="#4fe8ea" opacity="0.6"/></g></g><circle cx="183.0" cy="121.2" r="3.1" fill="#fff"/></svg><rect x="919.8" y="650.4" width="225.1" height="148.3" fill="#fb3fb4"/><svg x="924.6" y="655.2" width="215.5" height="138.7" viewBox="0 0 215.5 138.7" overflow="hidden"><g filter="url(#gr3)"><rect x="-30" y="-30" width="275.5" height="198.7" fill="url(#gb2)"/><g filter="url(#b12)"><ellipse cx="211.2" cy="133.2" rx="10.8" ry="13.9" fill="#6a2a28" opacity="0.9"/></g><g filter="url(#b3)"><ellipse cx="25.9" cy="25.0" rx="5.4" ry="4.2" fill="#6fb8b0" opacity="0.6"/><ellipse cx="64.7" cy="16.6" rx="4.3" ry="4.2" fill="#6ab0a8" opacity="0.6"/><ellipse cx="21.6" cy="62.4" rx="7.5" ry="6.9" fill="#8aa8c8" opacity="0.5"/><ellipse cx="58.2" cy="62.4" rx="4.3" ry="4.2" fill="#5fb0a0" opacity="0.6"/><ellipse cx="125.0" cy="41.6" rx="3.9" ry="3.5" fill="#7ab0a8" opacity="0.5"/><ellipse cx="168.1" cy="76.3" rx="4.3" ry="4.9" fill="#6a9890" opacity="0.6"/><ellipse cx="161.6" cy="108.2" rx="4.3" ry="4.2" fill="#7a9088" opacity="0.5"/><ellipse cx="194.0" cy="25.0" rx="3.9" ry="3.5" fill="#8aa8a0" opacity="0.5"/></g></g><line x1="24.6" y1="128.4" x2="213.3" y2="26.1" stroke="#e61e97" stroke-width="6.2" stroke-linecap="butt"/></svg><rect x="1086.5" y="54.0" width="3" height="54.6" fill="#6f6f6f"/><path d="M1088.0 55.5 L1094.2 71.0 L1088.0 71.0Z" fill="#0a0a0a"/><text x="1088.6" y="99.3" class="nser" font-size="33" text-anchor="middle" fill="#707070" textLength="23" lengthAdjust="spacingAndGlyphs">N</text><path d="M1079.6 77.8h4.8l12.8 15.6v5.8h-1.8z" fill="#0a0a0a"/><rect x="676.1" y="46.2" width="468.4" height="752.1" fill="none" stroke="#4d4d4d" stroke-width="1.7"/><path d="M864.9 46.2v8.5M676.1 709.6h10.5" stroke="#1a1a1a" stroke-width="1.6" fill="none"/><text x="579.3" y="39.9" font-size="31" textLength="81.3" lengthAdjust="spacingAndGlyphs" fill="#111" stroke="#111" stroke-width="0.8">(b) (i)</text><text x="778.3" y="38.8" font-size="33" textLength="182.0" lengthAdjust="spacingAndGlyphs" fill="#111" stroke="#111" stroke-width="0.3">105°05′26″E</text><text transform="translate(667.2 765.7) rotate(-90)" font-size="33.5" fill="#111" stroke="#111" stroke-width="0.3" textLength="150.1" lengthAdjust="spacingAndGlyphs">5°37′10″N</text></g>
<g id="map-c"><g transform="translate(1249.4 46.2)"><g clip-path="url(#landL)"><g filter="url(#lf4)"><g clip-path="url(#land)"><rect x="-10" y="0" width="310" height="740" fill="#9266ba"/><g filter="url(#warp)"><g filter="url(#b9)"><ellipse cx="133.2" cy="93.8" rx="30.0" ry="70.0" fill="#9a5cb4" opacity="1"/><ellipse cx="118.2" cy="211.8" rx="40.0" ry="45.0" fill="#9e58ae" opacity="0.95"/><ellipse cx="58.2" cy="298.8" rx="18.0" ry="70.0" fill="#7c80d4" opacity="1"/><ellipse cx="88.2" cy="373.8" rx="30.0" ry="40.0" fill="#8476c6" opacity="0.9"/><ellipse cx="138.2" cy="298.8" rx="30.0" ry="35.0" fill="#a060b0" opacity="0.85"/><ellipse cx="200.2" cy="338.8" rx="36.0" ry="60.0" fill="#b4a8dc" opacity="0.7"/><ellipse cx="216.2" cy="338.8" rx="18.0" ry="42.0" fill="#cbcbe8" opacity="0.8"/><ellipse cx="133.2" cy="398.8" rx="34.0" ry="30.0" fill="#8f6cc0" opacity="0.8"/><ellipse cx="87.2" cy="466.8" rx="34.0" ry="33.0" fill="#b03a90" opacity="0.9"/><ellipse cx="51.2" cy="501.8" rx="12.0" ry="34.0" fill="#5ac0ec" opacity="1"/><ellipse cx="32.2" cy="573.8" rx="9.0" ry="50.0" fill="#8a5aa8" opacity="0.9"/><ellipse cx="83.2" cy="581.8" rx="32.0" ry="18.0" fill="#28226a" opacity="1"/><ellipse cx="34.2" cy="631.8" rx="12.0" ry="20.0" fill="#3a2a78" opacity="0.9"/><ellipse cx="30.2" cy="693.8" rx="16.0" ry="30.0" fill="#8884c8" opacity="1"/><ellipse cx="113.2" cy="538.8" rx="20.0" ry="20.0" fill="#7a5aa0" opacity="0.6"/></g></g><g filter="url(#b6)"><ellipse cx="149.2" cy="193.8" rx="7.0" ry="22.0" fill="#2c3450" opacity="0.9" transform="rotate(-25 149.2 193.8)"/><ellipse cx="71.2" cy="379.8" rx="7.0" ry="9.0" fill="#2a2060" opacity="0.85"/><ellipse cx="60.2" cy="405.8" rx="9.0" ry="10.0" fill="#60b8e0" opacity="0.85"/><ellipse cx="66.2" cy="549.8" rx="22.0" ry="17.0" fill="#0e5a54" opacity="1"/><ellipse cx="166.2" cy="489.8" rx="28.0" ry="14.0" fill="#8a5a30" opacity="1"/><ellipse cx="145.2" cy="445.8" rx="9.0" ry="8.0" fill="#2a5a80" opacity="0.85"/><ellipse cx="173.2" cy="443.8" rx="14.0" ry="12.0" fill="#c8c4dc" opacity="0.8"/><ellipse cx="148.2" cy="551.8" rx="18.0" ry="42.0" fill="#b8f0f4" opacity="1"/><ellipse cx="132.2" cy="516.8" rx="7.0" ry="7.0" fill="#6a4a88" opacity="0.8"/><ellipse cx="267.2" cy="333.8" rx="12.0" ry="36.0" fill="#20b84a" opacity="1"/><ellipse cx="260.2" cy="298.8" rx="8.0" ry="7.0" fill="#0c0c0c" opacity="0.95"/><ellipse cx="251.2" cy="309.8" rx="5.0" ry="14.0" fill="#c0603a" opacity="0.9"/><ellipse cx="244.2" cy="333.8" rx="5.0" ry="28.0" fill="#f0ece8" opacity="0.95"/><polyline points="238.2,376.8 224.2,400.8 212.2,424.8 199.2,446.8 190.2,464.8 177.2,487.8 164.2,512.8 149.2,538.8 138.2,559.8 129.2,580.8" fill="none" stroke="#c6dcf0" stroke-width="22" stroke-linecap="round" stroke-linejoin="round" opacity="0.85"/><polyline points="243.2,378.8 229.2,402.8 217.2,426.8 204.2,448.8 195.2,466.8 182.2,489.8 169.2,514.8 154.2,540.8 143.2,561.8 134.2,582.8" fill="none" stroke="#eef2ea" stroke-width="8" stroke-linecap="round" stroke-linejoin="round" opacity="0.9"/></g></g></g><polyline points="261.0,364.9 254.2,373.8 246.2,385.3 235.1,403.8 224.0,427.8 211.0,450.0 201.8,468.6 188.8,490.8 175.9,516.7 161.1,542.6 150.0,562.9" fill="none" stroke="#f2c49a" stroke-width="5.5" opacity="0.95" filter="url(#b1)"/></g><polygon points="36.7,427.8 39.2,415.8 43.2,409.8 49.2,407.3 50.7,410.8 47.2,419.8 42.2,426.8 38.2,430.8" fill="#fff"/><circle cx="74.1" cy="438.9" r="3.2" fill="#fff"/><circle cx="71.7" cy="429.8" r="1.6" fill="#fff"/><circle cx="200.9" cy="463.0" r="3.0" fill="#fff"/><circle cx="103.2" cy="106.8" r="2.0" fill="#fff"/></g><rect x="1327.2" y="317.2" width="65.5" height="51.8" fill="none" stroke="#fb6a20" stroke-width="5.5"/><rect x="1373.2" y="466.9" width="70.7" height="52.1" fill="none" stroke="#fb6a20" stroke-width="5.2"/><rect x="1378.2" y="615.5" width="15.2" height="11.5" fill="#fff" fill-opacity="0.75" stroke="#fb3fb4" stroke-width="4"/><rect x="1465.0" y="113.9" width="252.0" height="193.2" fill="#fb6a20"/><svg x="1469.7" y="118.6" width="242.6" height="183.8" viewBox="0 0 242.6 183.8" overflow="hidden"><g filter="url(#gr4)"><rect x="-30" y="-30" width="302.6" height="243.8" fill="url(#gc0)"/><g filter="url(#b12)"><ellipse cx="194.1" cy="91.9" rx="43.7" ry="55.1" fill="#955a98" opacity="0.55"/><ellipse cx="97.0" cy="36.8" rx="48.5" ry="36.8" fill="#8570c4" opacity="0.6"/><ellipse cx="48.5" cy="147.0" rx="48.5" ry="36.8" fill="#7282d8" opacity="0.6"/></g></g></svg><rect x="1492.7" y="464.3" width="224.3" height="172.8" fill="#fb6a20"/><svg x="1497.9" y="469.5" width="213.9" height="162.4" viewBox="0 0 213.9 162.4" overflow="hidden"><g filter="url(#gr4)"><rect x="-30" y="-30" width="273.9" height="222.4" fill="url(#gc1)"/><g filter="url(#b12)"><ellipse cx="89.8" cy="103.9" rx="19.3" ry="19.5" fill="#205a70" opacity="0.95"/><ellipse cx="102.7" cy="81.2" rx="19.3" ry="8.1" fill="#8fd8e0" opacity="0.85" transform="rotate(15 102.7 81.2)"/><ellipse cx="166.8" cy="97.4" rx="42.8" ry="22.7" fill="#a8d0dc" opacity="0.85"/><ellipse cx="192.5" cy="48.7" rx="27.8" ry="45.5" fill="#9ccce0" opacity="0.8"/><ellipse cx="154.0" cy="149.4" rx="55.6" ry="21.1" fill="#8c5a36" opacity="0.95"/><ellipse cx="171.1" cy="139.7" rx="17.1" ry="9.7" fill="#8a3a3a" opacity="0.7"/><ellipse cx="207.5" cy="149.4" rx="12.8" ry="22.7" fill="#a8c880" opacity="0.9"/><ellipse cx="32.1" cy="149.4" rx="42.8" ry="16.2" fill="#985a88" opacity="0.8"/></g></g><circle cx="183.1" cy="121.2" r="3.1" fill="#fff"/></svg><rect x="1491.5" y="650.4" width="225.5" height="148.3" fill="#fb3fb4"/><svg x="1496.3" y="655.2" width="215.9" height="138.7" viewBox="0 0 215.9 138.7" overflow="hidden"><g filter="url(#gr3)"><rect x="-30" y="-30" width="275.9" height="198.7" fill="url(#gc2)"/><g filter="url(#b12)"><ellipse cx="211.6" cy="133.2" rx="10.8" ry="13.9" fill="#6a2a28" opacity="0.9"/></g><g filter="url(#b3)"><ellipse cx="25.9" cy="25.0" rx="5.4" ry="4.2" fill="#6fb8b0" opacity="0.6"/><ellipse cx="64.8" cy="16.6" rx="4.3" ry="4.2" fill="#6ab0a8" opacity="0.6"/><ellipse cx="21.6" cy="62.4" rx="7.6" ry="6.9" fill="#8aa8c8" opacity="0.5"/><ellipse cx="58.3" cy="62.4" rx="4.3" ry="4.2" fill="#5fb0a0" opacity="0.6"/><ellipse cx="125.2" cy="41.6" rx="3.9" ry="3.5" fill="#7ab0a8" opacity="0.5"/><ellipse cx="168.4" cy="76.3" rx="4.3" ry="4.9" fill="#6a9890" opacity="0.6"/><ellipse cx="161.9" cy="108.2" rx="4.3" ry="4.2" fill="#7a9088" opacity="0.5"/><ellipse cx="194.3" cy="25.0" rx="3.9" ry="3.5" fill="#8aa8a0" opacity="0.5"/></g></g><line x1="24.4" y1="128.8" x2="212.5" y2="27.2" stroke="#e61e97" stroke-width="6.2" stroke-linecap="butt"/></svg><rect x="1663.2" y="54.0" width="3" height="54.6" fill="#6f6f6f"/><path d="M1664.7 55.5 L1670.9 71.0 L1664.7 71.0Z" fill="#0a0a0a"/><text x="1665.3" y="99.3" class="nser" font-size="33" text-anchor="middle" fill="#707070" textLength="23" lengthAdjust="spacingAndGlyphs">N</text><path d="M1656.3 77.8h4.8l12.8 15.6v5.8h-1.8z" fill="#0a0a0a"/><rect x="1247.4" y="46.2" width="469.0" height="752.1" fill="none" stroke="#4d4d4d" stroke-width="1.7"/><path d="M1439.8 46.2v8.5M1247.4 709.8h10.5" stroke="#1a1a1a" stroke-width="1.6" fill="none"/><text x="1150.5" y="39.9" font-size="31" textLength="77.3" lengthAdjust="spacingAndGlyphs" fill="#111" stroke="#111" stroke-width="0.8">(c) (i)</text><text x="1359.5" y="38.8" font-size="33" textLength="182.4" lengthAdjust="spacingAndGlyphs" fill="#111" stroke="#111" stroke-width="0.3">105°05′26″E</text><text transform="translate(1237.7 765.7) rotate(-90)" font-size="33.5" fill="#111" stroke="#111" stroke-width="0.3" textLength="149.7" lengthAdjust="spacingAndGlyphs">5°37′10″N</text></g>
<g id="map-d"><g transform="translate(102.7 1267.9)"><g clip-path="url(#landL)"><g filter="url(#lf4)"><g clip-path="url(#land)"><rect x="-10" y="0" width="310" height="740" fill="#9266ba"/><g filter="url(#warp)"><g filter="url(#b9)"><ellipse cx="133.2" cy="93.8" rx="30.0" ry="70.0" fill="#9a5cb4" opacity="1"/><ellipse cx="118.2" cy="211.8" rx="40.0" ry="45.0" fill="#9e58ae" opacity="0.95"/><ellipse cx="58.2" cy="298.8" rx="18.0" ry="70.0" fill="#7c80d4" opacity="1"/><ellipse cx="88.2" cy="373.8" rx="30.0" ry="40.0" fill="#8476c6" opacity="0.9"/><ellipse cx="138.2" cy="298.8" rx="30.0" ry="35.0" fill="#a060b0" opacity="0.85"/><ellipse cx="200.2" cy="338.8" rx="36.0" ry="60.0" fill="#b4a8dc" opacity="0.7"/><ellipse cx="216.2" cy="338.8" rx="18.0" ry="42.0" fill="#cbcbe8" opacity="0.8"/><ellipse cx="133.2" cy="398.8" rx="34.0" ry="30.0" fill="#8f6cc0" opacity="0.8"/><ellipse cx="87.2" cy="466.8" rx="34.0" ry="33.0" fill="#b03a90" opacity="0.9"/><ellipse cx="51.2" cy="501.8" rx="12.0" ry="34.0" fill="#5ac0ec" opacity="1"/><ellipse cx="32.2" cy="573.8" rx="9.0" ry="50.0" fill="#8a5aa8" opacity="0.9"/><ellipse cx="83.2" cy="581.8" rx="32.0" ry="18.0" fill="#28226a" opacity="1"/><ellipse cx="34.2" cy="631.8" rx="12.0" ry="20.0" fill="#3a2a78" opacity="0.9"/><ellipse cx="30.2" cy="693.8" rx="16.0" ry="30.0" fill="#8884c8" opacity="1"/><ellipse cx="113.2" cy="538.8" rx="20.0" ry="20.0" fill="#7a5aa0" opacity="0.6"/></g></g><g filter="url(#b6)"><ellipse cx="149.2" cy="193.8" rx="7.0" ry="22.0" fill="#2c3450" opacity="0.9" transform="rotate(-25 149.2 193.8)"/><ellipse cx="71.2" cy="379.8" rx="7.0" ry="9.0" fill="#2a2060" opacity="0.85"/><ellipse cx="60.2" cy="405.8" rx="9.0" ry="10.0" fill="#60b8e0" opacity="0.85"/><ellipse cx="66.2" cy="549.8" rx="22.0" ry="17.0" fill="#0e5a54" opacity="1"/><ellipse cx="166.2" cy="489.8" rx="28.0" ry="14.0" fill="#8a5a30" opacity="1"/><ellipse cx="145.2" cy="445.8" rx="9.0" ry="8.0" fill="#2a5a80" opacity="0.85"/><ellipse cx="173.2" cy="443.8" rx="14.0" ry="12.0" fill="#c8c4dc" opacity="0.8"/><ellipse cx="148.2" cy="551.8" rx="18.0" ry="42.0" fill="#b8f0f4" opacity="1"/><ellipse cx="132.2" cy="516.8" rx="7.0" ry="7.0" fill="#6a4a88" opacity="0.8"/><ellipse cx="267.2" cy="333.8" rx="12.0" ry="36.0" fill="#20b84a" opacity="1"/><ellipse cx="260.2" cy="298.8" rx="8.0" ry="7.0" fill="#0c0c0c" opacity="0.95"/><ellipse cx="251.2" cy="309.8" rx="5.0" ry="14.0" fill="#c0603a" opacity="0.9"/><ellipse cx="244.2" cy="333.8" rx="5.0" ry="28.0" fill="#f0ece8" opacity="0.95"/><polyline points="238.2,376.8 224.2,400.8 212.2,424.8 199.2,446.8 190.2,464.8 177.2,487.8 164.2,512.8 149.2,538.8 138.2,559.8 129.2,580.8" fill="none" stroke="#c6dcf0" stroke-width="22" stroke-linecap="round" stroke-linejoin="round" opacity="0.85"/><polyline points="243.2,378.8 229.2,402.8 217.2,426.8 204.2,448.8 195.2,466.8 182.2,489.8 169.2,514.8 154.2,540.8 143.2,561.8 134.2,582.8" fill="none" stroke="#eef2ea" stroke-width="8" stroke-linecap="round" stroke-linejoin="round" opacity="0.9"/></g></g></g><polyline points="261.0,364.9 254.2,373.8 246.2,385.3 235.1,403.8 224.0,427.8 211.0,450.0 201.8,468.6 188.8,490.8 175.9,516.7 161.1,542.6 150.0,562.9" fill="none" stroke="#f2c49a" stroke-width="5.5" opacity="0.95" filter="url(#b1)"/></g><polygon points="36.7,427.8 39.2,415.8 43.2,409.8 49.2,407.3 50.7,410.8 47.2,419.8 42.2,426.8 38.2,430.8" fill="#fff"/><circle cx="74.1" cy="438.9" r="3.2" fill="#fff"/><circle cx="71.7" cy="429.8" r="1.6" fill="#fff"/><circle cx="200.9" cy="463.0" r="3.0" fill="#fff"/><circle cx="103.2" cy="106.8" r="2.0" fill="#fff"/></g><rect x="172.2" y="1538.0" width="64.8" height="52.2" fill="none" stroke="#fb6a20" stroke-width="5.5"/><rect x="217.9" y="1688.0" width="71.0" height="51.8" fill="none" stroke="#fb6a20" stroke-width="5.2"/><rect x="234.3" y="1835.4" width="14.5" height="10.8" fill="#fff" fill-opacity="0.75" stroke="#fb3fb4" stroke-width="4"/><rect x="318.9" y="1336.5" width="251.5" height="193.5" fill="#fb6a20"/><svg x="323.6" y="1341.2" width="242.1" height="184.1" viewBox="0 0 242.1 184.1" overflow="hidden"><g filter="url(#gr4)"><rect x="-30" y="-30" width="302.1" height="244.1" fill="url(#gd0)"/><g filter="url(#b12)"><ellipse cx="193.7" cy="92.0" rx="43.6" ry="55.2" fill="#955a98" opacity="0.55"/><ellipse cx="96.8" cy="36.8" rx="48.4" ry="36.8" fill="#8570c4" opacity="0.6"/><ellipse cx="48.4" cy="147.3" rx="48.4" ry="36.8" fill="#7282d8" opacity="0.6"/></g></g></svg><rect x="345.9" y="1686.2" width="224.5" height="173.1" fill="#fb6a20"/><svg x="351.1" y="1691.4" width="214.1" height="162.7" viewBox="0 0 214.1 162.7" overflow="hidden"><g filter="url(#gr4)"><rect x="-30" y="-30" width="274.1" height="222.7" fill="url(#gd1)"/><g filter="url(#b12)"><ellipse cx="89.9" cy="104.1" rx="19.3" ry="19.5" fill="#205a70" opacity="0.95"/><ellipse cx="102.8" cy="81.3" rx="19.3" ry="8.1" fill="#8fd8e0" opacity="0.85" transform="rotate(15 102.8 81.3)"/><ellipse cx="167.0" cy="97.6" rx="42.8" ry="22.8" fill="#a8d0dc" opacity="0.85"/><ellipse cx="192.7" cy="48.8" rx="27.8" ry="45.6" fill="#9ccce0" opacity="0.8"/><ellipse cx="154.2" cy="149.7" rx="55.7" ry="21.2" fill="#8c5a36" opacity="0.95"/><ellipse cx="171.3" cy="139.9" rx="17.1" ry="9.8" fill="#8a3a3a" opacity="0.7"/><ellipse cx="207.7" cy="149.7" rx="12.8" ry="22.8" fill="#a8c880" opacity="0.9"/><ellipse cx="32.1" cy="149.7" rx="42.8" ry="16.3" fill="#985a88" opacity="0.8"/></g></g><circle cx="183.3" cy="121.4" r="3.1" fill="#fff"/></svg><rect x="345.5" y="1873.0" width="224.9" height="146.6" fill="#fb3fb4"/><svg x="350.3" y="1877.8" width="215.3" height="137.0" viewBox="0 0 215.3 137.0" overflow="hidden"><g filter="url(#gr3)"><rect x="-30" y="-30" width="275.3" height="197.0" fill="url(#gd2)"/><g filter="url(#b12)"><ellipse cx="211.0" cy="131.5" rx="10.8" ry="13.7" fill="#6a2a28" opacity="0.9"/></g><g filter="url(#b3)"><ellipse cx="25.8" cy="24.7" rx="5.4" ry="4.1" fill="#6fb8b0" opacity="0.6"/><ellipse cx="64.6" cy="16.4" rx="4.3" ry="4.1" fill="#6ab0a8" opacity="0.6"/><ellipse cx="21.5" cy="61.6" rx="7.5" ry="6.9" fill="#8aa8c8" opacity="0.5"/><ellipse cx="58.1" cy="61.6" rx="4.3" ry="4.1" fill="#5fb0a0" opacity="0.6"/><ellipse cx="124.9" cy="41.1" rx="3.9" ry="3.4" fill="#7ab0a8" opacity="0.5"/><ellipse cx="167.9" cy="75.4" rx="4.3" ry="4.8" fill="#6a9890" opacity="0.6"/><ellipse cx="161.5" cy="106.9" rx="4.3" ry="4.1" fill="#7a9088" opacity="0.5"/><ellipse cx="193.8" cy="24.7" rx="3.9" ry="3.4" fill="#8aa8a0" opacity="0.5"/></g></g><line x1="25.2" y1="125.8" x2="213.9" y2="23.7" stroke="#e61e97" stroke-width="6.2" stroke-linecap="butt"/></svg><rect x="508.3" y="1275.5" width="3" height="54.6" fill="#6f6f6f"/><path d="M509.8 1277.0 L516.0 1292.5 L509.8 1292.5Z" fill="#0a0a0a"/><text x="510.4" y="1320.8" class="nser" font-size="33" text-anchor="middle" fill="#707070" textLength="23" lengthAdjust="spacingAndGlyphs">N</text><path d="M501.4 1299.3h4.8l12.8 15.6v5.8h-1.8z" fill="#0a0a0a"/><rect x="101.7" y="1267.4" width="468.3" height="751.8" fill="none" stroke="#4d4d4d" stroke-width="1.7"/><path d="M290.4 1267.4v8.5M101.7 1931.1h10.5" stroke="#1a1a1a" stroke-width="1.6" fill="none"/><text x="9.7" y="1264.0" font-size="31" textLength="79.3" lengthAdjust="spacingAndGlyphs" fill="#111" stroke="#111" stroke-width="0.8">(d) (i)</text><text x="206.4" y="1260.0" font-size="33" textLength="181.3" lengthAdjust="spacingAndGlyphs" fill="#111" stroke="#111" stroke-width="0.3">105°05′26″E</text><text transform="translate(92.0 1986.8) rotate(-90)" font-size="33.5" fill="#111" stroke="#111" stroke-width="0.3" textLength="151.2" lengthAdjust="spacingAndGlyphs">5°37′10″N</text></g>
<g id="map-e"><g transform="translate(677.2 1267.9)"><g clip-path="url(#landL)"><g filter="url(#lf5)"><g clip-path="url(#land)"><rect x="-10" y="0" width="310" height="740" fill="#866c80"/><g filter="url(#warp)"><g filter="url(#b9)"><ellipse cx="133.2" cy="93.8" rx="30.0" ry="70.0" fill="#8a6a7c" opacity="1"/><ellipse cx="118.2" cy="211.8" rx="40.0" ry="45.0" fill="#8a6878" opacity="0.9"/><ellipse cx="58.2" cy="298.8" rx="18.0" ry="70.0" fill="#777096" opacity="1"/><ellipse cx="138.2" cy="298.8" rx="30.0" ry="35.0" fill="#8c6a7a" opacity="0.85"/><ellipse cx="200.2" cy="338.8" rx="36.0" ry="60.0" fill="#a9a0b4" opacity="0.7"/><ellipse cx="216.2" cy="338.8" rx="18.0" ry="42.0" fill="#c4c8d6" opacity="0.8"/><ellipse cx="87.2" cy="466.8" rx="34.0" ry="33.0" fill="#a5646a" opacity="0.85"/><ellipse cx="51.2" cy="501.8" rx="11.0" ry="32.0" fill="#74a8d8" opacity="0.95"/><ellipse cx="83.2" cy="580.8" rx="28.0" ry="16.0" fill="#2a2630" opacity="0.95"/><ellipse cx="34.2" cy="631.8" rx="12.0" ry="20.0" fill="#3a2e3a" opacity="0.9"/><ellipse cx="30.2" cy="693.8" rx="16.0" ry="30.0" fill="#7a6678" opacity="1"/></g></g><g filter="url(#b6)"><ellipse cx="149.2" cy="193.8" rx="7.0" ry="22.0" fill="#2c2c34" opacity="0.9" transform="rotate(-25 149.2 193.8)"/><ellipse cx="71.2" cy="379.8" rx="7.0" ry="9.0" fill="#2e2a3a" opacity="0.85"/><ellipse cx="60.2" cy="405.8" rx="9.0" ry="10.0" fill="#5a9aa8" opacity="0.7"/><ellipse cx="66.2" cy="549.8" rx="18.0" ry="14.0" fill="#1e2c30" opacity="0.95"/><ellipse cx="166.2" cy="489.8" rx="26.0" ry="12.0" fill="#80604a" opacity="0.8"/><ellipse cx="145.2" cy="445.8" rx="9.0" ry="8.0" fill="#3a4250" opacity="0.85"/><ellipse cx="173.2" cy="443.8" rx="14.0" ry="12.0" fill="#c8c8d4" opacity="0.8"/><ellipse cx="148.2" cy="551.8" rx="17.0" ry="40.0" fill="#cfe8f2" opacity="0.95"/><ellipse cx="267.2" cy="333.8" rx="12.0" ry="36.0" fill="#207a68" opacity="1"/><ellipse cx="260.2" cy="298.8" rx="8.0" ry="7.0" fill="#0c0c0c" opacity="0.95"/><ellipse cx="244.2" cy="333.8" rx="5.0" ry="28.0" fill="#f0ece8" opacity="0.95"/><polyline points="238.2,376.8 224.2,400.8 212.2,424.8 199.2,446.8 190.2,464.8 177.2,487.8 164.2,512.8 149.2,538.8 138.2,559.8 129.2,580.8" fill="none" stroke="#c9dde8" stroke-width="22" stroke-linecap="round" stroke-linejoin="round" opacity="0.85"/><polyline points="243.2,378.8 229.2,402.8 217.2,426.8 204.2,448.8 195.2,466.8 182.2,489.8 169.2,514.8 154.2,540.8 143.2,561.8 134.2,582.8" fill="none" stroke="#eef0ec" stroke-width="8" stroke-linecap="round" stroke-linejoin="round" opacity="0.9"/></g></g></g><polyline points="261.0,364.9 254.2,373.8 246.2,385.3 235.1,403.8 224.0,427.8 211.0,450.0 201.8,468.6 188.8,490.8 175.9,516.7 161.1,542.6 150.0,562.9" fill="none" stroke="#ead8cc" stroke-width="5.5" opacity="0.9" filter="url(#b1)"/></g><polygon points="36.7,427.8 39.2,415.8 43.2,409.8 49.2,407.3 50.7,410.8 47.2,419.8 42.2,426.8 38.2,430.8" fill="#fff"/><circle cx="74.1" cy="438.9" r="3.2" fill="#fff"/><circle cx="71.7" cy="429.8" r="1.6" fill="#fff"/><circle cx="200.9" cy="463.0" r="3.0" fill="#fff"/><circle cx="103.2" cy="106.8" r="2.0" fill="#fff"/></g><rect x="749.5" y="1538.0" width="64.8" height="52.2" fill="none" stroke="#fb6a20" stroke-width="5.5"/><rect x="794.6" y="1688.0" width="71.0" height="51.8" fill="none" stroke="#fb6a20" stroke-width="5.2"/><rect x="800.2" y="1831.3" width="22.4" height="17.9" fill="#fbe3f2"/><rect x="801.2" y="1832.3" width="20.4" height="15.9" fill="#fb3fb4"/><rect x="807.5" y="1837.9" width="7.8" height="4.7" fill="#8b8f86" stroke="#f7d3e8" stroke-width="1.2"/><rect x="893.7" y="1336.5" width="251.2" height="193.5" fill="#fb6a20"/><svg x="898.4" y="1341.2" width="241.8" height="184.1" viewBox="0 0 241.8 184.1" overflow="hidden"><g filter="url(#gr4)"><rect x="-30" y="-30" width="301.8" height="244.1" fill="url(#ge0)"/><g filter="url(#b12)"><ellipse cx="174.1" cy="92.0" rx="38.7" ry="51.5" fill="#96686e" opacity="0.55"/><ellipse cx="36.3" cy="36.8" rx="36.3" ry="36.8" fill="#7f5a74" opacity="0.6"/><ellipse cx="229.7" cy="92.0" rx="14.5" ry="55.2" fill="#a8949c" opacity="0.6"/></g></g></svg><rect x="920.7" y="1686.2" width="224.2" height="173.1" fill="#fb6a20"/><svg x="925.9" y="1691.4" width="213.8" height="162.7" viewBox="0 0 213.8 162.7" overflow="hidden"><g filter="url(#gr4)"><rect x="-30" y="-30" width="273.8" height="222.7" fill="url(#ge1)"/><g filter="url(#b12)"><ellipse cx="89.8" cy="100.9" rx="19.2" ry="19.5" fill="#2a3038" opacity="0.9"/><ellipse cx="111.2" cy="81.3" rx="21.4" ry="9.8" fill="#a8c8d8" opacity="0.7"/><ellipse cx="171.0" cy="97.6" rx="42.8" ry="22.8" fill="#b8c8d4" opacity="0.8"/><ellipse cx="203.1" cy="40.7" rx="17.1" ry="32.5" fill="#a8c0cc" opacity="0.8"/><ellipse cx="149.7" cy="146.4" rx="53.4" ry="19.5" fill="#8a6050" opacity="0.8"/><ellipse cx="203.1" cy="146.4" rx="12.8" ry="19.5" fill="#a0c0b8" opacity="0.7"/></g></g><circle cx="183.0" cy="121.4" r="3.1" fill="#fff"/></svg><rect x="919.8" y="1873.0" width="225.1" height="146.6" fill="#fb3fb4"/><svg x="924.6" y="1877.8" width="215.5" height="137.0" viewBox="0 0 215.5 137.0" overflow="hidden"><g filter="url(#gr3)"><rect x="-30" y="-30" width="275.5" height="197.0" fill="url(#ge2)"/><g filter="url(#b12)"><ellipse cx="211.2" cy="131.5" rx="10.8" ry="13.7" fill="#5a3020" opacity="0.9"/></g><g filter="url(#b3)"><ellipse cx="25.9" cy="24.7" rx="5.4" ry="4.1" fill="#8aa0a8" opacity="0.6"/><ellipse cx="64.7" cy="16.4" rx="4.3" ry="4.1" fill="#8aa0a8" opacity="0.6"/><ellipse cx="21.6" cy="61.6" rx="7.5" ry="6.9" fill="#8aa8c8" opacity="0.5"/><ellipse cx="58.2" cy="61.6" rx="4.3" ry="4.1" fill="#809aa0" opacity="0.6"/><ellipse cx="125.0" cy="41.1" rx="3.9" ry="3.4" fill="#7ab0a8" opacity="0.5"/><ellipse cx="168.1" cy="75.4" rx="4.3" ry="4.8" fill="#6a9890" opacity="0.6"/><ellipse cx="161.6" cy="106.9" rx="4.3" ry="4.1" fill="#7a9088" opacity="0.5"/><ellipse cx="194.0" cy="24.7" rx="3.9" ry="3.4" fill="#8aa8a0" opacity="0.5"/></g></g><line x1="24.9" y1="126.0" x2="213.9" y2="23.7" stroke="#e61e97" stroke-width="6.2" stroke-linecap="butt"/></svg><rect x="1086.5" y="1275.5" width="3" height="54.6" fill="#6f6f6f"/><path d="M1088.0 1277.0 L1094.2 1292.5 L1088.0 1292.5Z" fill="#0a0a0a"/><text x="1088.6" y="1320.8" class="nser" font-size="33" text-anchor="middle" fill="#707070" textLength="23" lengthAdjust="spacingAndGlyphs">N</text><path d="M1079.6 1299.3h4.8l12.8 15.6v5.8h-1.8z" fill="#0a0a0a"/><rect x="676.2" y="1267.4" width="468.3" height="751.8" fill="none" stroke="#4d4d4d" stroke-width="1.7"/><path d="M864.1 1267.4v8.5M676.2 1931.5h10.5" stroke="#1a1a1a" stroke-width="1.6" fill="none"/><text x="579.2" y="1264.0" font-size="31" textLength="79.3" lengthAdjust="spacingAndGlyphs" fill="#111" stroke="#111" stroke-width="0.8">(e) (i)</text><text x="778.4" y="1260.0" font-size="33" textLength="181.7" lengthAdjust="spacingAndGlyphs" fill="#111" stroke="#111" stroke-width="0.3">105°05′26″E</text><text transform="translate(667.2 1986.8) rotate(-90)" font-size="33.5" fill="#111" stroke="#111" stroke-width="0.3" textLength="151.2" lengthAdjust="spacingAndGlyphs">5°37′10″N</text></g>
<g id="chart-a"><polyline points="102.2,949.0 105.5,949.9 111.0,964.7 116.6,957.3 122.2,979.5 127.7,970.3 134.2,986.9 140.7,983.2 151.8,1000.8 163.8,999.5 168.4,994.3 174.9,976.8 181.4,971.2 187.9,983.2 193.4,978.6 199.5,958.2 205.4,967.5 212.8,974.9 218.4,977.7 223.9,975.8 229.5,978.6 235.1,975.8 240.6,982.3 247.1,983.2 252.6,968.4 258.2,974.0 264.7,971.2 271.1,968.4 276.7,974.9 282.3,964.4 288.7,978.6 294.3,974.0 300.4,978.0 305.9,946.2 312.4,964.7 317.9,959.2 324.0,931.0 329.6,951.8 335.5,953.2 359.6,947.7 365.1,952.1 370.7,942.5 381.8,940.7 388.8,935.1 395.1,941.6 406.8,927.7 413.3,932.3 418.8,941.0 425.3,942.1 430.8,938.4 436.8,925.9 442.5,937.9 452.1,929.6 463.2,928.1 471.6,921.6 478.0,934.2 483.6,932.3 491.9,933.6 501.2,932.3 513.2,946.2 518.8,932.3 525.2,932.9 530.8,927.7 537.3,927.3 542.8,913.3 549.3,910.7 554.8,921.2 561.3,924.9 570.6,933.6" fill="none" stroke="#00a650" stroke-width="5.1" stroke-linejoin="round" stroke-linecap="butt"/><polyline points="102.2,1058.7 109.2,1057.3 115.7,1042.5 122.2,1066.5 128.6,1072.1 139.7,1067.4 146.2,1083.2 158.2,1082.3 163.8,1078.5 174.9,1068.4 181.4,1059.1 187.9,1071.1 193.4,1070.2 199.9,1040.6 205.4,1045.2 212.8,1061.9 218.4,1062.8 223.9,1061.0 229.5,1064.7 235.1,1072.1 240.6,1064.7 247.1,1063.7 252.6,1058.2 258.2,1061.0 264.7,1052.6 271.1,1056.3 276.7,1061.9 282.3,1047.1 288.7,1055.4 294.3,1047.1 300.4,1059.1 305.9,1043.4 312.4,1045.2 317.9,1048.9 324.0,1011.0 329.6,1030.4 335.5,1031.4 342.0,1019.3 347.6,1014.3 354.0,1012.5 365.1,1029.5 370.7,1005.4 376.2,1004.5 382.7,999.0 389.2,1009.1 394.8,1009.1 406.8,996.2 413.3,1009.1 418.8,1012.8 425.3,1004.5 430.8,1003.2 436.8,981.0 442.5,1008.2 447.5,1000.8 454.0,1001.7 459.5,990.6 466.0,1002.7 471.6,996.2 478.0,998.0 483.6,1002.7 490.1,996.2 495.6,996.2 506.7,1004.5 513.2,1005.4 518.8,992.5 525.2,991.6 537.3,987.9 542.8,971.2 549.3,966.6 554.8,961.9 561.3,977.7 570.6,983.2" fill="none" stroke="#fb1c26" stroke-width="5.1" stroke-linejoin="round" stroke-linecap="butt"/><polyline points="102.2,1036.9 111.0,1040.6 116.6,1034.1 122.2,1048.9 127.7,1049.9 134.2,1057.3 140.7,1056.3 146.2,1070.2 151.8,1075.8 157.3,1076.7 168.4,1071.1 174.9,1060.0 181.4,1053.6 187.9,1068.4 193.4,1061.0 199.5,1040.6 205.4,1053.6 212.8,1063.7 218.4,1068.4 223.9,1061.9 229.5,1063.7 235.1,1070.2 247.1,1068.4 252.6,1057.3 258.2,1060.0 264.7,1061.0 271.1,1054.5 276.7,1058.2 282.3,1050.8 288.7,1058.2 294.3,1056.3 300.4,1063.7 305.9,1049.9 312.4,1054.5 317.9,1051.7 324.0,1029.1 329.6,1044.3 335.5,1049.9 342.0,1041.5 347.6,1040.2 354.0,1041.5 365.1,1046.5 370.7,1039.7 376.2,1037.8 382.7,1029.5 389.2,1042.5 394.8,1037.8 401.2,1035.1 406.8,1025.8 413.3,1037.8 418.8,1042.5 425.3,1033.2 430.8,1030.4 436.8,1015.6 442.5,1032.3 448.4,1026.7 454.0,1035.1 459.5,1023.9 466.0,1036.0 471.6,1027.7 483.6,1036.9 490.1,1021.2 495.6,1022.1 506.7,1034.1 513.2,1036.5 525.2,1028.0 537.3,1028.6 542.8,1019.3 549.3,1012.8 554.8,1014.3 561.3,1026.7 570.6,1035.4" fill="none" stroke="#0071bb" stroke-width="5.1" stroke-linejoin="round" stroke-linecap="butt"/><path d="M101.8 835.2V1174.2H570.4M96.2 835.2H101.8M96.2 902.7H101.8M96.2 969.9H101.8M96.2 1037.8H101.8M96.2 1105.4H101.8M96.2 1174.2H101.8M101.8 1174.2v3.2M570.4 1174.2v3.2" fill="none" stroke="#3c3c3c" stroke-width="1.5"/><text x="93.9" y="844.2" font-size="25.5" text-anchor="end" textLength="49.2" lengthAdjust="spacingAndGlyphs" fill="#222" stroke="#222" stroke-width="0.15">0.25</text><text x="93.9" y="911.7" font-size="25.5" text-anchor="end" textLength="49.2" lengthAdjust="spacingAndGlyphs" fill="#222" stroke="#222" stroke-width="0.15">0.20</text><text x="93.9" y="978.9" font-size="25.5" text-anchor="end" textLength="49.2" lengthAdjust="spacingAndGlyphs" fill="#222" stroke="#222" stroke-width="0.15">0.15</text><text x="93.9" y="1046.8" font-size="25.5" text-anchor="end" textLength="49.2" lengthAdjust="spacingAndGlyphs" fill="#222" stroke="#222" stroke-width="0.15">0.10</text><text x="93.9" y="1114.4" font-size="25.5" text-anchor="end" textLength="49.2" lengthAdjust="spacingAndGlyphs" fill="#222" stroke="#222" stroke-width="0.15">0.05</text><text x="93.9" y="1183.2" font-size="25.5" text-anchor="end" textLength="13.8" lengthAdjust="spacingAndGlyphs" fill="#222" stroke="#222" stroke-width="0.15">0</text><text x="102.2" y="1199.8" font-size="27" text-anchor="middle" textLength="16.2" lengthAdjust="spacingAndGlyphs" fill="#222" stroke="#222" stroke-width="0.12">A</text><text x="555.6" y="1199.8" font-size="27" textLength="21.3" lengthAdjust="spacingAndGlyphs" fill="#222" stroke="#222" stroke-width="0.12">A′</text><text x="229.6" y="1218.2" font-size="33" textLength="192.8" lengthAdjust="spacingAndGlyphs" fill="#222" stroke="#222" stroke-width="0.15">Pixel location</text><text transform="translate(39.8 988.3) rotate(-90)" font-size="34.5" fill="#222" stroke="#222" stroke-width="0.15" text-anchor="middle" textLength="166" lengthAdjust="spacingAndGlyphs">Reflectance</text><text x="10.6" y="816.0" font-size="31" textLength="86.8" lengthAdjust="spacingAndGlyphs" fill="#111" stroke="#111" stroke-width="0.8">(a) (ii)</text><text x="136.7" y="880.6" font-size="31.4" textLength="18.5" lengthAdjust="spacingAndGlyphs" fill="#222" stroke="#222" stroke-width="0.12">R</text><line x1="166.3" y1="872.2" x2="229.8" y2="872.2" stroke="#fb1c26" stroke-width="5.3" stroke-linecap="round"/><text x="134.6" y="911.0" font-size="31.4" textLength="24.0" lengthAdjust="spacingAndGlyphs" fill="#222" stroke="#222" stroke-width="0.12">G</text><line x1="166.3" y1="902.4" x2="229.8" y2="902.4" stroke="#00a650" stroke-width="5.3" stroke-linecap="round"/><text x="136.6" y="941.0" font-size="31.4" textLength="18.7" lengthAdjust="spacingAndGlyphs" fill="#222" stroke="#222" stroke-width="0.12">B</text><line x1="166.3" y1="931.8" x2="229.8" y2="931.8" stroke="#0071bb" stroke-width="5.3" stroke-linecap="round"/></g>
<g id="chart-b"><polyline points="676.1,897.2 684.8,897.2 689.9,891.6 695.9,905.5 701.4,908.3 707.0,902.7 713.4,901.8 719.9,905.9 727.3,905.5 737.5,907.3 745.8,901.8 754.2,896.2 763.4,899.9 772.7,894.4 779.1,894.4 788.4,896.6 801.4,898.1 808.8,902.7 819.9,899.0 831.0,897.2 837.4,891.6 845.8,896.2 855.0,891.6 861.1,894.8 866.7,892.2 873.1,897.2 879.6,895.3 885.2,890.7 891.1,895.9 896.6,879.6 902.7,884.2 908.3,884.8 920.3,877.4 925.9,877.7 931.4,882.4 937.9,884.8 943.5,876.3 949.9,875.9 955.9,871.8 962.0,878.1 968.5,876.8 974.0,875.0 979.6,876.3 986.0,885.1 992.5,884.8 1003.6,881.4 1009.2,872.6 1014.7,903.6 1021.2,882.4 1027.3,895.9 1032.9,881.4 1038.8,905.1 1044.3,887.0 1050.8,880.0 1056.4,890.3 1062.5,879.2 1068.4,879.6 1073.9,882.4 1086.0,884.2 1096.2,881.8 1105.4,881.1 1120.2,875.9 1126.7,875.5 1133.2,882.4 1146.1,882.4" fill="none" stroke="#fb1c26" stroke-width="5.1" stroke-linejoin="round" stroke-linecap="butt"/><polyline points="676.1,903.6 679.2,904.6 683.8,916.6 690.3,917.5 695.9,930.5 707.0,923.1 713.4,921.2 719.9,916.6 727.3,918.5 737.5,925.9 743.1,922.2 748.6,909.2 755.1,912.9 761.6,906.4 768.0,905.9 773.6,926.8 779.1,924.4 784.7,910.1 790.2,910.1 795.8,919.4 801.4,913.8 806.9,915.7 814.3,924.0 819.9,918.5 825.4,920.3 831.0,912.0 837.4,906.4 843.9,914.8 850.4,910.1 861.1,914.4 866.7,917.0 873.1,916.2 879.2,922.5 885.2,909.6 891.1,922.2 896.6,913.3 902.7,909.2 908.3,912.0 914.4,917.0 920.3,912.5 926.8,918.1 932.4,917.5 937.9,913.8 944.4,917.5 961.0,917.5 966.6,916.2 973.1,917.0 979.6,927.3 985.1,936.0 991.6,936.0 997.7,944.7 1003.6,936.0 1009.2,939.2 1015.1,994.3 1021.2,942.5 1027.3,975.8 1032.9,952.7 1038.8,1006.4 1044.3,957.3 1050.8,939.2 1056.4,961.4 1062.5,941.0 1068.4,942.1 1074.3,944.7 1080.4,939.2 1086.0,946.2 1092.5,953.2 1098.0,952.7 1104.5,955.5 1110.0,950.8 1115.6,964.7 1121.7,963.8 1127.3,975.8 1133.2,976.8 1138.7,973.1 1144.3,968.4" fill="none" stroke="#00a650" stroke-width="5.1" stroke-linejoin="round" stroke-linecap="butt"/><polyline points="676.1,943.4 683.8,951.8 690.3,952.1 695.9,961.0 701.4,962.5 707.0,954.5 713.4,953.6 723.6,951.8 731.0,956.4 737.5,958.2 743.1,956.4 748.6,947.1 755.1,950.8 761.6,945.3 768.0,944.0 773.6,961.9 779.1,961.0 784.7,950.3 790.2,951.8 795.8,957.7 801.4,952.7 808.8,960.1 814.3,964.4 819.9,957.3 825.4,960.7 831.0,950.3 837.4,949.0 843.9,952.7 850.0,949.9 855.6,951.4 861.1,950.3 866.7,954.0 873.1,954.5 879.2,968.4 885.2,950.8 891.1,963.2 896.6,957.3 902.7,950.8 908.3,955.8 914.4,956.9 920.3,953.2 926.8,959.2 932.4,960.7 937.9,957.3 944.4,960.7 949.9,960.1 955.9,955.8 962.0,965.6 967.5,958.8 973.1,960.7 979.6,969.4 985.1,982.3 991.6,979.9 997.7,982.3 1003.6,974.3 1009.2,976.8 1015.1,1033.6 1021.2,982.3 1027.3,1020.2 1032.9,992.5 1038.8,1048.9 1044.3,998.0 1050.8,982.3 1056.4,1005.4 1062.5,976.8 1068.4,979.5 1074.3,986.0 1080.4,979.9 1086.0,986.0 1092.5,997.7 1098.0,992.5 1104.5,998.0 1110.0,993.4 1115.6,1009.1 1121.7,1006.4 1127.3,1013.8 1133.2,1018.4 1138.7,1014.7 1144.3,1011.0" fill="none" stroke="#0071bb" stroke-width="5.1" stroke-linejoin="round" stroke-linecap="butt"/><path d="M676.0 836.1V1174.2H1143.6M670.4 873.1H676.0M670.4 949.0H676.0M670.4 1024.5H676.0M670.4 1098.9H676.0M670.4 1174.2H676.0M676.0 1174.2v3.2M1143.6 1174.2v3.2" fill="none" stroke="#3c3c3c" stroke-width="1.5"/><text x="668.1" y="882.1" font-size="25.5" text-anchor="end" textLength="49.2" lengthAdjust="spacingAndGlyphs" fill="#222" stroke="#222" stroke-width="0.15">0.93</text><text x="668.1" y="958.0" font-size="25.5" text-anchor="end" textLength="49.2" lengthAdjust="spacingAndGlyphs" fill="#222" stroke="#222" stroke-width="0.15">0.91</text><text x="668.1" y="1033.5" font-size="25.5" text-anchor="end" textLength="49.2" lengthAdjust="spacingAndGlyphs" fill="#222" stroke="#222" stroke-width="0.15">0.89</text><text x="668.1" y="1107.9" font-size="25.5" text-anchor="end" textLength="49.2" lengthAdjust="spacingAndGlyphs" fill="#222" stroke="#222" stroke-width="0.15">0.87</text><text x="668.1" y="1183.2" font-size="25.5" text-anchor="end" textLength="49.2" lengthAdjust="spacingAndGlyphs" fill="#222" stroke="#222" stroke-width="0.15">0.85</text><text x="676.4" y="1199.8" font-size="27" text-anchor="middle" textLength="16.2" lengthAdjust="spacingAndGlyphs" fill="#222" stroke="#222" stroke-width="0.12">A</text><text x="1128.8" y="1199.8" font-size="27" textLength="21.3" lengthAdjust="spacingAndGlyphs" fill="#222" stroke="#222" stroke-width="0.12">A′</text><text x="803.9" y="1218.2" font-size="33" textLength="192.8" lengthAdjust="spacingAndGlyphs" fill="#222" stroke="#222" stroke-width="0.15">Pixel location</text><text transform="translate(613.5 988.3) rotate(-90)" font-size="34.5" fill="#222" stroke="#222" stroke-width="0.15" text-anchor="middle" textLength="166" lengthAdjust="spacingAndGlyphs">Reflectance</text><text x="576.8" y="816.0" font-size="31" textLength="90.3" lengthAdjust="spacingAndGlyphs" fill="#111" stroke="#111" stroke-width="0.8">(b) (ii)</text></g>
<g id="chart-c"><polyline points="1248.3,859.2 1251.0,860.2 1257.5,887.0 1263.6,878.7 1269.6,906.4 1275.5,895.3 1281.6,905.9 1287.7,901.4 1293.6,906.4 1299.5,912.5 1311.2,917.5 1317.3,908.3 1322.9,887.0 1328.8,887.0 1334.7,891.6 1340.8,887.4 1346.9,885.5 1352.8,892.5 1358.8,887.0 1371.4,894.4 1381.5,891.6 1388.9,902.7 1394.5,899.0 1400.6,890.3 1406.5,887.9 1412.1,882.9 1424.1,886.1 1429.7,881.1 1432.0,881.4 1435.7,893.5 1442.2,891.6 1448.3,893.5 1454.2,873.1 1459.8,878.7 1465.7,883.3 1471.8,856.5 1477.3,869.4 1483.5,872.6 1489.4,875.0 1495.3,871.3 1501.4,872.6 1513.4,873.1 1519.4,867.6 1531.0,867.0 1537.1,862.6 1543.0,865.1 1549.0,862.9 1555.1,863.3 1561.2,873.1 1567.1,880.0 1573.0,886.6 1579.1,878.7 1584.7,871.3 1590.8,916.6 1596.7,875.9 1602.6,896.6 1608.8,881.4 1614.9,915.7 1620.8,879.2 1626.3,876.3 1632.3,889.8 1637.8,876.3 1643.9,876.8 1650.4,878.1 1655.9,881.4 1661.9,890.7 1668.0,883.7 1673.9,882.9 1685.9,878.1 1692.0,877.4 1698.0,875.0 1703.7,890.7 1709.6,893.5 1717.0,895.3" fill="none" stroke="#00a650" stroke-width="5.1" stroke-linejoin="round" stroke-linecap="butt"/><polyline points="1248.3,978.0 1257.5,981.0 1263.6,964.7 1269.6,996.2 1275.5,1002.7 1281.6,990.6 1287.7,989.7 1293.6,999.5 1298.8,995.8 1305.6,1000.3 1311.2,999.5 1317.3,989.7 1322.9,982.3 1328.8,974.0 1334.7,984.2 1340.8,983.2 1346.9,970.3 1352.8,969.9 1358.8,978.0 1364.9,978.0 1371.4,982.3 1376.9,982.9 1383.4,992.5 1388.9,986.9 1406.5,979.5 1412.1,966.6 1418.0,976.8 1424.1,977.7 1429.7,966.2 1432.0,969.4 1436.1,976.8 1442.2,967.5 1448.3,980.5 1454.2,973.1 1460.1,964.7 1465.7,975.5 1471.8,938.8 1477.3,951.8 1483.5,953.6 1489.4,945.3 1495.3,937.3 1501.4,937.3 1507.5,948.1 1513.4,952.7 1519.4,931.8 1525.5,929.9 1531.0,923.6 1537.1,938.4 1543.0,935.5 1549.0,929.9 1555.1,930.5 1561.2,949.0 1567.1,949.5 1573.0,945.3 1579.1,942.5 1584.7,922.5 1590.8,983.2 1596.7,942.9 1602.6,968.1 1608.8,939.2 1614.9,986.0 1620.8,953.6 1626.3,938.8 1632.3,957.7 1637.8,937.3 1643.9,938.4 1650.4,945.3 1655.9,944.0 1661.9,948.1 1668.0,942.9 1680.0,941.0 1685.9,937.0 1698.0,925.9 1703.7,924.0 1709.6,941.0 1717.0,940.7" fill="none" stroke="#fb1c26" stroke-width="5.1" stroke-linejoin="round" stroke-linecap="butt"/><polyline points="1248.3,965.6 1251.0,966.6 1257.5,978.6 1265.9,974.0 1269.6,993.4 1275.5,994.0 1287.7,990.6 1293.6,999.0 1305.6,1007.3 1311.2,1006.9 1317.3,1003.6 1322.9,988.8 1328.8,986.9 1334.7,994.7 1340.8,988.8 1346.9,987.3 1352.8,993.4 1358.8,994.3 1364.9,999.5 1371.4,999.0 1376.9,996.2 1383.4,1006.4 1388.9,1010.1 1394.5,1000.8 1406.5,992.1 1412.1,991.6 1418.0,988.8 1424.1,988.4 1429.7,985.1 1432.0,985.1 1436.1,989.2 1442.2,991.6 1448.3,996.6 1454.2,999.0 1460.1,988.4 1465.7,996.2 1471.8,975.5 1477.3,979.2 1483.5,988.8 1489.4,983.2 1495.3,979.2 1501.4,985.1 1507.5,987.9 1513.4,986.9 1525.5,983.2 1531.0,974.0 1537.1,992.1 1543.0,981.8 1549.0,982.3 1555.1,983.6 1561.2,1002.1 1567.1,1002.1 1573.0,997.7 1579.1,989.7 1584.7,984.7 1590.8,1040.6 1596.7,994.0 1602.6,1031.4 1608.8,999.5 1614.9,1055.4 1620.8,1010.1 1626.3,999.5 1632.3,1021.2 1637.8,986.6 1643.9,989.2 1650.4,997.7 1655.9,999.0 1668.0,1011.0 1673.9,1002.7 1680.0,1005.8 1685.9,1004.0 1692.0,1011.4 1698.0,1003.2 1703.7,1011.0 1709.6,1024.3 1717.0,1023.6" fill="none" stroke="#0071bb" stroke-width="5.1" stroke-linejoin="round" stroke-linecap="butt"/><path d="M1247.3 835.2V1174.2H1715.6M1241.7 835.2H1247.3M1241.7 901.4H1247.3M1241.7 969.4H1247.3M1241.7 1036.9H1247.3M1241.7 1104.8H1247.3M1241.7 1174.2H1247.3M1247.3 1174.2v3.2M1715.6 1174.2v3.2" fill="none" stroke="#3c3c3c" stroke-width="1.5"/><text x="1239.4" y="844.2" font-size="25.5" text-anchor="end" textLength="49.2" lengthAdjust="spacingAndGlyphs" fill="#222" stroke="#222" stroke-width="0.15">0.76</text><text x="1239.4" y="910.4" font-size="25.5" text-anchor="end" textLength="49.2" lengthAdjust="spacingAndGlyphs" fill="#222" stroke="#222" stroke-width="0.15">0.74</text><text x="1239.4" y="978.4" font-size="25.5" text-anchor="end" textLength="49.2" lengthAdjust="spacingAndGlyphs" fill="#222" stroke="#222" stroke-width="0.15">0.72</text><text x="1239.4" y="1045.9" font-size="25.5" text-anchor="end" textLength="49.2" lengthAdjust="spacingAndGlyphs" fill="#222" stroke="#222" stroke-width="0.15">0.70</text><text x="1239.4" y="1113.8" font-size="25.5" text-anchor="end" textLength="49.2" lengthAdjust="spacingAndGlyphs" fill="#222" stroke="#222" stroke-width="0.15">0.58</text><text x="1239.4" y="1183.2" font-size="25.5" text-anchor="end" textLength="49.2" lengthAdjust="spacingAndGlyphs" fill="#222" stroke="#222" stroke-width="0.15">0.56</text><text x="1247.7" y="1199.8" font-size="27" text-anchor="middle" textLength="16.2" lengthAdjust="spacingAndGlyphs" fill="#222" stroke="#222" stroke-width="0.12">A</text><text x="1700.8" y="1199.8" font-size="27" textLength="21.3" lengthAdjust="spacingAndGlyphs" fill="#222" stroke="#222" stroke-width="0.12">A′</text><text x="1374.3" y="1218.2" font-size="33" textLength="192.8" lengthAdjust="spacingAndGlyphs" fill="#222" stroke="#222" stroke-width="0.15">Pixel location</text><text transform="translate(1185.0 988.3) rotate(-90)" font-size="34.5" fill="#222" stroke="#222" stroke-width="0.15" text-anchor="middle" textLength="166" lengthAdjust="spacingAndGlyphs">Reflectance</text><text x="1150.5" y="816.0" font-size="31" textLength="85.3" lengthAdjust="spacingAndGlyphs" fill="#111" stroke="#111" stroke-width="0.8">(c) (ii)</text></g>
<g id="chart-d"><polyline points="101.4,2086.2 104.0,2086.7 108.3,2103.4 114.2,2096.0 120.3,2122.2 125.9,2112.1 131.8,2121.9 137.9,2118.2 143.4,2121.3 149.5,2129.3 161.4,2133.3 167.5,2125.0 173.6,2104.1 179.2,2103.7 185.1,2107.8 191.0,2104.1 197.1,2102.8 203.2,2108.9 209.1,2104.1 221.2,2111.1 231.4,2108.4 238.8,2118.5 244.7,2115.2 250.8,2107.1 256.7,2104.7 262.4,2100.4 273.9,2103.7 279.8,2098.6 285.2,2110.8 291.5,2108.4 297.6,2110.2 303.7,2090.8 309.6,2096.3 315.5,2099.7 321.6,2073.8 327.2,2086.2 333.3,2088.9 339.2,2091.7 345.1,2088.0 351.3,2089.3 363.3,2089.9 369.2,2084.9 380.9,2083.7 387.0,2079.7 392.9,2081.9 398.8,2079.7 404.9,2080.0 411.0,2089.9 417.0,2096.3 422.5,2102.8 428.4,2094.9 434.0,2088.0 440.1,2133.7 446.0,2093.0 452.1,2113.9 458.0,2098.6 463.6,2133.0 469.7,2096.0 475.8,2093.6 481.7,2106.5 487.7,2093.6 493.8,2094.1 499.9,2094.9 505.8,2098.2 511.7,2107.1 517.8,2100.4 523.8,2100.0 535.8,2095.4 541.3,2094.5 546.9,2091.7 553.0,2107.4 559.5,2110.2 570.6,2112.6" fill="none" stroke="#00a650" stroke-width="5.1" stroke-linejoin="round" stroke-linecap="butt"/><polyline points="101.4,2195.4 108.3,2197.2 114.2,2181.1 120.3,2212.0 125.9,2218.1 131.8,2206.5 137.9,2205.2 143.4,2213.9 149.5,2212.0 155.5,2216.3 161.4,2215.2 167.5,2206.5 173.6,2199.1 179.2,2190.7 185.1,2200.0 191.0,2199.6 197.1,2186.1 203.2,2186.1 209.1,2194.1 215.1,2194.1 221.2,2198.1 226.7,2198.5 232.8,2208.3 238.8,2202.8 256.7,2195.4 262.4,2183.3 268.4,2193.5 273.9,2194.1 279.8,2183.3 285.6,2192.9 291.5,2184.2 297.6,2197.2 303.7,2189.2 309.6,2180.5 315.5,2191.1 321.6,2154.6 327.2,2167.6 333.3,2168.9 339.2,2161.1 345.1,2153.7 351.3,2153.7 357.4,2163.9 363.3,2168.1 369.2,2148.2 375.3,2146.7 380.9,2139.8 387.0,2154.1 392.9,2151.5 398.8,2146.3 404.9,2146.7 411.0,2164.8 417.0,2165.2 422.5,2161.1 428.4,2158.9 434.0,2139.3 440.1,2199.1 446.0,2158.9 452.1,2184.2 458.0,2155.9 463.6,2202.2 469.7,2170.4 475.8,2154.6 481.7,2173.7 487.7,2153.7 493.8,2154.6 499.9,2161.1 505.8,2159.6 511.7,2164.4 517.8,2158.9 529.9,2157.4 535.8,2153.7 546.9,2142.6 553.0,2140.4 558.5,2157.0 570.6,2156.5" fill="none" stroke="#fb1c26" stroke-width="5.1" stroke-linejoin="round" stroke-linecap="butt"/><polyline points="101.4,2188.9 104.0,2189.8 108.3,2197.2 114.2,2193.5 120.3,2210.2 125.9,2210.7 137.9,2208.9 143.4,2216.6 155.5,2224.4 161.4,2224.0 167.5,2220.7 173.6,2205.5 179.2,2204.6 185.1,2212.6 191.0,2205.9 197.1,2205.2 203.2,2211.1 209.1,2211.5 215.1,2216.3 221.2,2215.7 226.7,2213.3 232.8,2223.7 238.8,2226.8 244.7,2218.5 256.7,2209.6 262.4,2209.2 268.4,2205.9 273.9,2205.9 279.8,2202.8 285.6,2207.0 291.5,2209.2 297.6,2214.4 303.7,2216.6 309.6,2205.2 315.5,2213.9 321.6,2193.5 327.2,2197.2 333.3,2206.5 339.2,2200.9 345.1,2197.2 351.3,2202.8 357.4,2205.9 363.3,2204.6 375.3,2201.5 380.9,2191.6 387.0,2209.6 392.9,2199.6 398.8,2200.0 404.9,2201.5 411.0,2220.0 417.0,2220.0 422.5,2215.7 428.4,2207.4 434.0,2201.8 440.1,2258.3 446.0,2211.5 452.1,2249.0 458.0,2217.6 463.6,2273.6 469.7,2227.7 475.8,2216.6 481.7,2238.8 487.7,2204.0 493.8,2207.0 499.9,2215.7 505.8,2216.3 517.8,2229.2 523.8,2220.7 529.9,2224.0 535.8,2221.8 541.3,2229.2 546.9,2221.3 553.0,2228.7 558.5,2241.6 570.6,2241.1" fill="none" stroke="#0071bb" stroke-width="5.1" stroke-linejoin="round" stroke-linecap="butt"/><path d="M101.0 2053.8V2392.1H569.8M95.4 2053.8H101.0M95.4 2120.0H101.0M95.4 2188.0H101.0M95.4 2255.5H101.0M95.4 2324.0H101.0M95.4 2392.1H101.0M101.0 2392.1v3.2M569.8 2392.1v3.2" fill="none" stroke="#3c3c3c" stroke-width="1.5"/><text x="93.1" y="2062.8" font-size="25.5" text-anchor="end" textLength="49.2" lengthAdjust="spacingAndGlyphs" fill="#222" stroke="#222" stroke-width="0.15">0.76</text><text x="93.1" y="2129.0" font-size="25.5" text-anchor="end" textLength="49.2" lengthAdjust="spacingAndGlyphs" fill="#222" stroke="#222" stroke-width="0.15">0.74</text><text x="93.1" y="2197.0" font-size="25.5" text-anchor="end" textLength="49.2" lengthAdjust="spacingAndGlyphs" fill="#222" stroke="#222" stroke-width="0.15">0.72</text><text x="93.1" y="2264.5" font-size="25.5" text-anchor="end" textLength="49.2" lengthAdjust="spacingAndGlyphs" fill="#222" stroke="#222" stroke-width="0.15">0.70</text><text x="93.1" y="2333.0" font-size="25.5" text-anchor="end" textLength="49.2" lengthAdjust="spacingAndGlyphs" fill="#222" stroke="#222" stroke-width="0.15">0.58</text><text x="93.1" y="2401.1" font-size="25.5" text-anchor="end" textLength="49.2" lengthAdjust="spacingAndGlyphs" fill="#222" stroke="#222" stroke-width="0.15">0.56</text><text x="101.4" y="2417.7" font-size="27" text-anchor="middle" textLength="16.2" lengthAdjust="spacingAndGlyphs" fill="#222" stroke="#222" stroke-width="0.12">A</text><text x="555.0" y="2417.7" font-size="27" textLength="21.3" lengthAdjust="spacingAndGlyphs" fill="#222" stroke="#222" stroke-width="0.12">A′</text><text x="228.8" y="2436.0" font-size="33" textLength="192.8" lengthAdjust="spacingAndGlyphs" fill="#222" stroke="#222" stroke-width="0.15">Pixel location</text><text transform="translate(38.5 2206.0) rotate(-90)" font-size="34.5" fill="#222" stroke="#222" stroke-width="0.15" text-anchor="middle" textLength="166" lengthAdjust="spacingAndGlyphs">Reflectance</text><text x="9.0" y="2035.0" font-size="31" textLength="88.3" lengthAdjust="spacingAndGlyphs" fill="#111" stroke="#111" stroke-width="0.8">(d) (ii)</text></g>
<g id="chart-e"><polyline points="676.1,2273.6 683.3,2273.1 689.4,2263.8 694.9,2281.4 701.0,2287.0 707.0,2280.5 712.5,2279.2 718.1,2285.5 724.0,2283.6 731.4,2286.6 737.5,2286.0 743.1,2280.5 748.6,2276.8 754.2,2270.3 760.3,2275.9 765.8,2276.8 772.1,2267.0 778.2,2267.5 784.7,2272.2 790.2,2272.2 801.4,2274.9 807.8,2281.0 813.4,2278.1 831.0,2273.1 837.4,2265.7 843.0,2271.2 849.5,2272.5 854.6,2266.6 860.7,2271.2 866.7,2266.2 872.6,2274.0 878.7,2268.5 884.8,2263.8 890.7,2270.7 896.3,2247.7 902.2,2256.4 908.3,2257.4 920.3,2246.6 925.9,2247.2 931.8,2252.7 937.9,2256.4 944.0,2242.9 949.9,2242.2 955.9,2238.5 962.0,2247.2 968.5,2244.4 974.0,2241.6 979.9,2242.2 986.0,2254.6 991.6,2255.5 1003.6,2250.9 1009.2,2236.6 1015.1,2274.9 1021.2,2249.0 1027.3,2266.6 1032.9,2247.2 1038.8,2276.8 1044.3,2255.5 1050.8,2247.2 1056.9,2259.6 1062.5,2245.9 1068.4,2246.6 1074.3,2250.3 1086.0,2253.3 1092.5,2249.0 1105.4,2248.1 1120.2,2239.2 1127.3,2237.4 1133.5,2248.1 1145.2,2248.1" fill="none" stroke="#fb1c26" stroke-width="5.1" stroke-linejoin="round" stroke-linecap="butt"/><polyline points="676.1,2175.0 678.3,2175.9 683.3,2187.9 689.4,2173.1 694.9,2206.5 701.0,2205.2 707.0,2205.2 712.5,2201.5 718.1,2210.2 731.4,2216.6 737.5,2216.6 743.1,2205.5 748.6,2188.9 754.2,2183.7 760.3,2193.5 765.8,2191.6 772.1,2180.0 778.2,2184.2 790.2,2188.9 795.8,2192.6 801.4,2192.2 807.8,2198.1 813.4,2200.0 818.9,2196.3 825.4,2190.7 831.0,2188.9 837.4,2176.8 843.0,2184.8 849.5,2187.0 854.6,2176.3 860.7,2189.8 866.7,2183.7 872.6,2191.6 878.7,2175.5 884.8,2173.7 890.7,2181.8 896.3,2143.0 902.2,2158.9 908.3,2162.6 914.4,2157.8 920.3,2150.4 925.9,2151.9 931.8,2157.8 937.9,2162.6 944.0,2145.4 949.9,2144.8 955.9,2140.4 962.0,2145.9 968.5,2146.3 974.0,2142.2 979.9,2142.2 986.0,2158.9 991.6,2163.3 997.1,2163.9 1002.7,2158.9 1009.2,2140.4 1015.1,2201.8 1021.2,2154.6 1027.3,2181.8 1032.9,2159.6 1038.8,2201.8 1044.3,2165.2 1050.8,2153.7 1056.9,2172.2 1062.5,2152.8 1068.4,2154.1 1074.3,2157.8 1080.4,2160.7 1086.0,2167.6 1092.5,2158.9 1104.5,2157.0 1110.0,2153.7 1121.7,2143.0 1127.6,2150.4 1133.5,2163.0 1145.2,2164.4" fill="none" stroke="#00a650" stroke-width="5.1" stroke-linejoin="round" stroke-linecap="butt"/><polyline points="676.1,2130.0 678.3,2131.1 683.3,2148.2 689.4,2130.0 694.9,2175.5 701.0,2173.7 707.0,2173.7 712.5,2168.5 718.1,2182.4 724.0,2188.9 731.4,2194.8 737.5,2193.5 743.1,2179.6 748.6,2155.6 754.2,2149.1 760.3,2164.4 765.8,2157.8 772.1,2143.0 778.2,2151.9 784.7,2156.5 795.8,2163.9 801.4,2163.3 807.8,2174.1 813.4,2177.8 818.9,2169.4 825.4,2159.3 831.0,2156.5 837.4,2146.7 843.0,2150.4 849.5,2153.7 854.6,2139.8 860.7,2156.5 866.7,2149.6 872.6,2163.9 878.7,2144.5 884.8,2138.5 890.7,2150.9 896.3,2100.0 902.2,2119.5 908.3,2128.2 914.4,2118.5 920.3,2110.8 925.9,2114.8 931.8,2122.2 937.9,2126.9 944.0,2107.4 949.9,2107.1 955.9,2096.3 962.0,2112.6 968.5,2106.0 974.0,2101.0 979.9,2101.0 986.0,2127.8 991.6,2133.3 997.1,2131.1 1002.7,2121.9 1009.2,2097.8 1015.1,2187.0 1021.2,2119.5 1027.3,2162.0 1032.9,2122.2 1038.8,2192.6 1044.3,2133.3 1050.8,2120.8 1056.9,2149.6 1062.5,2112.1 1068.4,2114.8 1074.3,2125.0 1080.4,2127.4 1086.0,2138.5 1092.5,2131.5 1098.0,2127.4 1104.5,2127.4 1110.0,2123.2 1116.5,2118.9 1121.7,2110.2 1127.6,2122.2 1133.5,2139.8 1145.2,2143.0" fill="none" stroke="#0071bb" stroke-width="5.1" stroke-linejoin="round" stroke-linecap="butt"/><path d="M675.5 2054.7V2392.1H1143.4M669.9 2090.8H675.5M669.9 2166.7H675.5M669.9 2241.6H675.5M669.9 2316.9H675.5M669.9 2392.1H675.5M675.5 2392.1v3.2M1143.4 2392.1v3.2" fill="none" stroke="#3c3c3c" stroke-width="1.5"/><text x="667.6" y="2099.8" font-size="25.5" text-anchor="end" textLength="49.2" lengthAdjust="spacingAndGlyphs" fill="#222" stroke="#222" stroke-width="0.15">0.80</text><text x="667.6" y="2175.7" font-size="25.5" text-anchor="end" textLength="49.2" lengthAdjust="spacingAndGlyphs" fill="#222" stroke="#222" stroke-width="0.15">0.78</text><text x="667.6" y="2250.6" font-size="25.5" text-anchor="end" textLength="49.2" lengthAdjust="spacingAndGlyphs" fill="#222" stroke="#222" stroke-width="0.15">0.76</text><text x="667.6" y="2325.9" font-size="25.5" text-anchor="end" textLength="49.2" lengthAdjust="spacingAndGlyphs" fill="#222" stroke="#222" stroke-width="0.15">0.74</text><text x="667.6" y="2401.1" font-size="25.5" text-anchor="end" textLength="49.2" lengthAdjust="spacingAndGlyphs" fill="#222" stroke="#222" stroke-width="0.15">0.72</text><text x="675.9" y="2417.7" font-size="27" text-anchor="middle" textLength="16.2" lengthAdjust="spacingAndGlyphs" fill="#222" stroke="#222" stroke-width="0.12">A</text><text x="1128.6" y="2417.7" font-size="27" textLength="21.3" lengthAdjust="spacingAndGlyphs" fill="#222" stroke="#222" stroke-width="0.12">A′</text><text x="802.3" y="2436.0" font-size="33" textLength="192.8" lengthAdjust="spacingAndGlyphs" fill="#222" stroke="#222" stroke-width="0.15">Pixel location</text><text transform="translate(612.5 2206.0) rotate(-90)" font-size="34.5" fill="#222" stroke="#222" stroke-width="0.15" text-anchor="middle" textLength="166" lengthAdjust="spacingAndGlyphs">Reflectance</text><text x="576.5" y="2035.0" font-size="31" textLength="89.3" lengthAdjust="spacingAndGlyphs" fill="#111" stroke="#111" stroke-width="0.8">(e) (ii)</text></g>
</svg>
</body></html>
